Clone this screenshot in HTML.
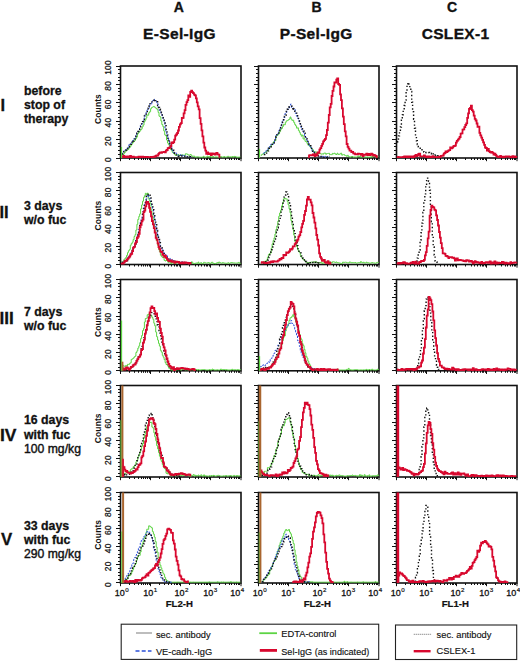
<!DOCTYPE html><html><head><meta charset="utf-8"><style>
*{margin:0;padding:0}
html,body{width:520px;height:661px;background:#fff;overflow:hidden}
svg{display:block}
text{font-family:"Liberation Sans",sans-serif;fill:#111}
.hd{font-size:14px;font-weight:bold;stroke:#111;stroke-width:0.35px}
.hd2{font-size:15.5px;font-weight:bold;letter-spacing:0.35px;stroke:#111;stroke-width:0.35px}
.rn{font-size:16.5px;font-weight:bold;stroke:#111;stroke-width:0.3px}
.rb{font-size:12.3px;font-weight:bold;stroke:#111;stroke-width:0.3px}
.rr{font-size:12.2px;stroke:#111;stroke-width:0.4px}
.yl{font-size:8.4px;letter-spacing:0.3px;stroke:#111;stroke-width:0.25px}
.cnt{font-size:8.5px;font-weight:bold;letter-spacing:0.1px}
.xl{font-size:9px;stroke:#111;stroke-width:0.3px}
.sup{font-size:6.2px;stroke-width:0.2px}
.xt{font-size:9.6px;font-weight:bold;stroke:#111;stroke-width:0.2px}
.lg{font-size:9.3px;stroke:#111;stroke-width:0.15px}
</style></head><body><svg width="520" height="661" viewBox="0 0 520 661"><path d="M116.00,158.50H120.50M118.00,154.50H120.50M118.00,150.50H120.50M118.00,146.50H120.50M118.00,143.50H120.50M116.00,139.50H120.50M118.00,135.50H120.50M118.00,132.50H120.50M118.00,128.50H120.50M118.00,124.50H120.50M116.00,121.50H120.50M118.00,117.50H120.50M118.00,113.50H120.50M118.00,110.50H120.50M118.00,106.50H120.50M116.00,102.50H120.50M118.00,99.50H120.50M118.00,95.50H120.50M118.00,91.50H120.50M118.00,88.50H120.50M116.00,84.50H120.50M118.00,80.50H120.50M118.00,77.50H120.50M118.00,73.50H120.50M118.00,69.50H120.50M116.00,66.50H120.50M120.50,158.00V161.20M129.50,158.00V160.00M134.50,158.00V160.00M138.50,158.00V160.00M141.50,158.00V160.00M143.50,158.00V160.00M145.50,158.00V160.00M147.50,158.00V160.00M149.50,158.00V160.00M150.50,158.00V161.20M159.50,158.00V160.00M164.50,158.00V160.00M168.50,158.00V160.00M171.50,158.00V160.00M174.50,158.00V160.00M176.50,158.00V160.00M177.50,158.00V160.00M179.50,158.00V160.00M180.50,158.00V161.20M189.50,158.00V160.00M195.50,158.00V160.00M198.50,158.00V160.00M201.50,158.00V160.00M204.50,158.00V160.00M206.50,158.00V160.00M207.50,158.00V160.00M209.50,158.00V160.00M210.50,158.00V161.20M219.50,158.00V160.00M225.50,158.00V160.00M229.50,158.00V160.00M231.50,158.00V160.00M234.50,158.00V160.00M236.50,158.00V160.00M238.50,158.00V160.00M239.50,158.00V160.00M241.00,158.00V161.20" stroke="#111" stroke-width="1" fill="none"/>
<rect x="120.50" y="66.00" width="120.50" height="92.00" fill="none" stroke="#111" stroke-width="1.6"/>
<text x="0" y="0" transform="translate(111.20,159.40) rotate(-90)" text-anchor="middle" class="yl">0</text>
<text x="0" y="0" transform="translate(111.20,141.00) rotate(-90)" text-anchor="middle" class="yl">20</text>
<text x="0" y="0" transform="translate(111.20,122.60) rotate(-90)" text-anchor="middle" class="yl">40</text>
<text x="0" y="0" transform="translate(111.20,104.20) rotate(-90)" text-anchor="middle" class="yl">60</text>
<text x="0" y="0" transform="translate(111.20,85.80) rotate(-90)" text-anchor="middle" class="yl">80</text>
<text x="0" y="0" transform="translate(111.20,67.40) rotate(-90)" text-anchor="middle" class="yl">100</text>
<text x="0" y="0" transform="translate(100.60,109.00) rotate(-90)" text-anchor="middle" class="cnt">Counts</text>
<path d="M254.00,158.50H258.50M256.00,154.50H258.50M256.00,150.50H258.50M256.00,146.50H258.50M256.00,143.50H258.50M254.00,139.50H258.50M256.00,135.50H258.50M256.00,132.50H258.50M256.00,128.50H258.50M256.00,124.50H258.50M254.00,121.50H258.50M256.00,117.50H258.50M256.00,113.50H258.50M256.00,110.50H258.50M256.00,106.50H258.50M254.00,102.50H258.50M256.00,99.50H258.50M256.00,95.50H258.50M256.00,91.50H258.50M256.00,88.50H258.50M254.00,84.50H258.50M256.00,80.50H258.50M256.00,77.50H258.50M256.00,73.50H258.50M256.00,69.50H258.50M254.00,66.50H258.50M258.50,158.00V161.20M267.50,158.00V160.00M272.50,158.00V160.00M276.50,158.00V160.00M279.50,158.00V160.00M281.50,158.00V160.00M283.50,158.00V160.00M285.50,158.00V160.00M287.50,158.00V160.00M288.50,158.00V161.20M297.50,158.00V160.00M302.50,158.00V160.00M306.50,158.00V160.00M309.50,158.00V160.00M312.50,158.00V160.00M314.50,158.00V160.00M315.50,158.00V160.00M317.50,158.00V160.00M318.50,158.00V161.20M327.50,158.00V160.00M333.50,158.00V160.00M336.50,158.00V160.00M339.50,158.00V160.00M342.50,158.00V160.00M344.50,158.00V160.00M345.50,158.00V160.00M347.50,158.00V160.00M348.50,158.00V161.20M357.50,158.00V160.00M363.50,158.00V160.00M367.50,158.00V160.00M369.50,158.00V160.00M372.50,158.00V160.00M374.50,158.00V160.00M376.50,158.00V160.00M377.50,158.00V160.00M379.00,158.00V161.20" stroke="#111" stroke-width="1" fill="none"/>
<rect x="258.50" y="66.00" width="120.50" height="92.00" fill="none" stroke="#111" stroke-width="1.6"/>
<path d="M392.00,158.50H396.50M394.00,154.50H396.50M394.00,150.50H396.50M394.00,146.50H396.50M394.00,143.50H396.50M392.00,139.50H396.50M394.00,135.50H396.50M394.00,132.50H396.50M394.00,128.50H396.50M394.00,124.50H396.50M392.00,121.50H396.50M394.00,117.50H396.50M394.00,113.50H396.50M394.00,110.50H396.50M394.00,106.50H396.50M392.00,102.50H396.50M394.00,99.50H396.50M394.00,95.50H396.50M394.00,91.50H396.50M394.00,88.50H396.50M392.00,84.50H396.50M394.00,80.50H396.50M394.00,77.50H396.50M394.00,73.50H396.50M394.00,69.50H396.50M392.00,66.50H396.50M396.50,158.00V161.20M405.50,158.00V160.00M410.50,158.00V160.00M414.50,158.00V160.00M417.50,158.00V160.00M419.50,158.00V160.00M421.50,158.00V160.00M423.50,158.00V160.00M425.50,158.00V160.00M426.50,158.00V161.20M435.50,158.00V160.00M440.50,158.00V160.00M444.50,158.00V160.00M447.50,158.00V160.00M450.50,158.00V160.00M452.50,158.00V160.00M453.50,158.00V160.00M455.50,158.00V160.00M456.50,158.00V161.20M465.50,158.00V160.00M471.50,158.00V160.00M474.50,158.00V160.00M477.50,158.00V160.00M480.50,158.00V160.00M482.50,158.00V160.00M483.50,158.00V160.00M485.50,158.00V160.00M486.50,158.00V161.20M495.50,158.00V160.00M501.50,158.00V160.00M505.50,158.00V160.00M507.50,158.00V160.00M510.50,158.00V160.00M512.50,158.00V160.00M514.50,158.00V160.00M515.50,158.00V160.00M517.00,158.00V161.20" stroke="#111" stroke-width="1" fill="none"/>
<rect x="396.50" y="66.00" width="120.50" height="92.00" fill="none" stroke="#111" stroke-width="1.6"/>
<path d="M116.00,264.50H120.50M118.00,260.50H120.50M118.00,257.50H120.50M118.00,253.50H120.50M118.00,249.50H120.50M116.00,246.50H120.50M118.00,242.50H120.50M118.00,238.50H120.50M118.00,235.50H120.50M118.00,231.50H120.50M116.00,227.50H120.50M118.00,224.50H120.50M118.00,220.50H120.50M118.00,216.50H120.50M118.00,212.50H120.50M116.00,209.50H120.50M118.00,205.50H120.50M118.00,201.50H120.50M118.00,198.50H120.50M118.00,194.50H120.50M116.00,190.50H120.50M118.00,187.50H120.50M118.00,183.50H120.50M118.00,179.50H120.50M118.00,176.50H120.50M116.00,172.50H120.50M120.50,264.50V267.70M129.50,264.50V266.50M134.50,264.50V266.50M138.50,264.50V266.50M141.50,264.50V266.50M143.50,264.50V266.50M145.50,264.50V266.50M147.50,264.50V266.50M149.50,264.50V266.50M150.50,264.50V267.70M159.50,264.50V266.50M164.50,264.50V266.50M168.50,264.50V266.50M171.50,264.50V266.50M174.50,264.50V266.50M176.50,264.50V266.50M177.50,264.50V266.50M179.50,264.50V266.50M180.50,264.50V267.70M189.50,264.50V266.50M195.50,264.50V266.50M198.50,264.50V266.50M201.50,264.50V266.50M204.50,264.50V266.50M206.50,264.50V266.50M207.50,264.50V266.50M209.50,264.50V266.50M210.50,264.50V267.70M219.50,264.50V266.50M225.50,264.50V266.50M229.50,264.50V266.50M231.50,264.50V266.50M234.50,264.50V266.50M236.50,264.50V266.50M238.50,264.50V266.50M239.50,264.50V266.50M241.00,264.50V267.70" stroke="#111" stroke-width="1" fill="none"/>
<rect x="120.50" y="172.50" width="120.50" height="92.00" fill="none" stroke="#111" stroke-width="1.6"/>
<text x="0" y="0" transform="translate(111.20,265.90) rotate(-90)" text-anchor="middle" class="yl">0</text>
<text x="0" y="0" transform="translate(111.20,247.50) rotate(-90)" text-anchor="middle" class="yl">20</text>
<text x="0" y="0" transform="translate(111.20,229.10) rotate(-90)" text-anchor="middle" class="yl">40</text>
<text x="0" y="0" transform="translate(111.20,210.70) rotate(-90)" text-anchor="middle" class="yl">60</text>
<text x="0" y="0" transform="translate(111.20,192.30) rotate(-90)" text-anchor="middle" class="yl">80</text>
<text x="0" y="0" transform="translate(111.20,173.90) rotate(-90)" text-anchor="middle" class="yl">100</text>
<text x="0" y="0" transform="translate(100.60,215.50) rotate(-90)" text-anchor="middle" class="cnt">Counts</text>
<path d="M254.00,264.50H258.50M256.00,260.50H258.50M256.00,257.50H258.50M256.00,253.50H258.50M256.00,249.50H258.50M254.00,246.50H258.50M256.00,242.50H258.50M256.00,238.50H258.50M256.00,235.50H258.50M256.00,231.50H258.50M254.00,227.50H258.50M256.00,224.50H258.50M256.00,220.50H258.50M256.00,216.50H258.50M256.00,212.50H258.50M254.00,209.50H258.50M256.00,205.50H258.50M256.00,201.50H258.50M256.00,198.50H258.50M256.00,194.50H258.50M254.00,190.50H258.50M256.00,187.50H258.50M256.00,183.50H258.50M256.00,179.50H258.50M256.00,176.50H258.50M254.00,172.50H258.50M258.50,264.50V267.70M267.50,264.50V266.50M272.50,264.50V266.50M276.50,264.50V266.50M279.50,264.50V266.50M281.50,264.50V266.50M283.50,264.50V266.50M285.50,264.50V266.50M287.50,264.50V266.50M288.50,264.50V267.70M297.50,264.50V266.50M302.50,264.50V266.50M306.50,264.50V266.50M309.50,264.50V266.50M312.50,264.50V266.50M314.50,264.50V266.50M315.50,264.50V266.50M317.50,264.50V266.50M318.50,264.50V267.70M327.50,264.50V266.50M333.50,264.50V266.50M336.50,264.50V266.50M339.50,264.50V266.50M342.50,264.50V266.50M344.50,264.50V266.50M345.50,264.50V266.50M347.50,264.50V266.50M348.50,264.50V267.70M357.50,264.50V266.50M363.50,264.50V266.50M367.50,264.50V266.50M369.50,264.50V266.50M372.50,264.50V266.50M374.50,264.50V266.50M376.50,264.50V266.50M377.50,264.50V266.50M379.00,264.50V267.70" stroke="#111" stroke-width="1" fill="none"/>
<rect x="258.50" y="172.50" width="120.50" height="92.00" fill="none" stroke="#111" stroke-width="1.6"/>
<path d="M392.00,264.50H396.50M394.00,260.50H396.50M394.00,257.50H396.50M394.00,253.50H396.50M394.00,249.50H396.50M392.00,246.50H396.50M394.00,242.50H396.50M394.00,238.50H396.50M394.00,235.50H396.50M394.00,231.50H396.50M392.00,227.50H396.50M394.00,224.50H396.50M394.00,220.50H396.50M394.00,216.50H396.50M394.00,212.50H396.50M392.00,209.50H396.50M394.00,205.50H396.50M394.00,201.50H396.50M394.00,198.50H396.50M394.00,194.50H396.50M392.00,190.50H396.50M394.00,187.50H396.50M394.00,183.50H396.50M394.00,179.50H396.50M394.00,176.50H396.50M392.00,172.50H396.50M396.50,264.50V267.70M405.50,264.50V266.50M410.50,264.50V266.50M414.50,264.50V266.50M417.50,264.50V266.50M419.50,264.50V266.50M421.50,264.50V266.50M423.50,264.50V266.50M425.50,264.50V266.50M426.50,264.50V267.70M435.50,264.50V266.50M440.50,264.50V266.50M444.50,264.50V266.50M447.50,264.50V266.50M450.50,264.50V266.50M452.50,264.50V266.50M453.50,264.50V266.50M455.50,264.50V266.50M456.50,264.50V267.70M465.50,264.50V266.50M471.50,264.50V266.50M474.50,264.50V266.50M477.50,264.50V266.50M480.50,264.50V266.50M482.50,264.50V266.50M483.50,264.50V266.50M485.50,264.50V266.50M486.50,264.50V267.70M495.50,264.50V266.50M501.50,264.50V266.50M505.50,264.50V266.50M507.50,264.50V266.50M510.50,264.50V266.50M512.50,264.50V266.50M514.50,264.50V266.50M515.50,264.50V266.50M517.00,264.50V267.70" stroke="#111" stroke-width="1" fill="none"/>
<rect x="396.50" y="172.50" width="120.50" height="92.00" fill="none" stroke="#111" stroke-width="1.6"/>
<path d="M116.00,370.50H120.50M118.00,367.50H120.50M118.00,363.50H120.50M118.00,359.50H120.50M118.00,356.50H120.50M116.00,352.50H120.50M118.00,348.50H120.50M118.00,345.50H120.50M118.00,341.50H120.50M118.00,337.50H120.50M116.00,334.50H120.50M118.00,330.50H120.50M118.00,326.50H120.50M118.00,323.50H120.50M118.00,319.50H120.50M116.00,316.50H120.50M118.00,312.50H120.50M118.00,308.50H120.50M118.00,305.50H120.50M118.00,301.50H120.50M116.00,297.50H120.50M118.00,294.50H120.50M118.00,290.50H120.50M118.00,286.50H120.50M118.00,283.50H120.50M116.00,279.50H120.50M120.50,370.80V374.00M129.50,370.80V372.80M134.50,370.80V372.80M138.50,370.80V372.80M141.50,370.80V372.80M143.50,370.80V372.80M145.50,370.80V372.80M147.50,370.80V372.80M149.50,370.80V372.80M150.50,370.80V374.00M159.50,370.80V372.80M164.50,370.80V372.80M168.50,370.80V372.80M171.50,370.80V372.80M174.50,370.80V372.80M176.50,370.80V372.80M177.50,370.80V372.80M179.50,370.80V372.80M180.50,370.80V374.00M189.50,370.80V372.80M195.50,370.80V372.80M198.50,370.80V372.80M201.50,370.80V372.80M204.50,370.80V372.80M206.50,370.80V372.80M207.50,370.80V372.80M209.50,370.80V372.80M210.50,370.80V374.00M219.50,370.80V372.80M225.50,370.80V372.80M229.50,370.80V372.80M231.50,370.80V372.80M234.50,370.80V372.80M236.50,370.80V372.80M238.50,370.80V372.80M239.50,370.80V372.80M241.00,370.80V374.00" stroke="#111" stroke-width="1" fill="none"/>
<rect x="120.50" y="279.50" width="120.50" height="91.30" fill="none" stroke="#111" stroke-width="1.6"/>
<text x="0" y="0" transform="translate(111.20,372.20) rotate(-90)" text-anchor="middle" class="yl">0</text>
<text x="0" y="0" transform="translate(111.20,353.94) rotate(-90)" text-anchor="middle" class="yl">20</text>
<text x="0" y="0" transform="translate(111.20,335.68) rotate(-90)" text-anchor="middle" class="yl">40</text>
<text x="0" y="0" transform="translate(111.20,317.42) rotate(-90)" text-anchor="middle" class="yl">60</text>
<text x="0" y="0" transform="translate(111.20,299.16) rotate(-90)" text-anchor="middle" class="yl">80</text>
<text x="0" y="0" transform="translate(111.20,280.90) rotate(-90)" text-anchor="middle" class="yl">100</text>
<text x="0" y="0" transform="translate(100.60,322.15) rotate(-90)" text-anchor="middle" class="cnt">Counts</text>
<path d="M254.00,370.50H258.50M256.00,367.50H258.50M256.00,363.50H258.50M256.00,359.50H258.50M256.00,356.50H258.50M254.00,352.50H258.50M256.00,348.50H258.50M256.00,345.50H258.50M256.00,341.50H258.50M256.00,337.50H258.50M254.00,334.50H258.50M256.00,330.50H258.50M256.00,326.50H258.50M256.00,323.50H258.50M256.00,319.50H258.50M254.00,316.50H258.50M256.00,312.50H258.50M256.00,308.50H258.50M256.00,305.50H258.50M256.00,301.50H258.50M254.00,297.50H258.50M256.00,294.50H258.50M256.00,290.50H258.50M256.00,286.50H258.50M256.00,283.50H258.50M254.00,279.50H258.50M258.50,370.80V374.00M267.50,370.80V372.80M272.50,370.80V372.80M276.50,370.80V372.80M279.50,370.80V372.80M281.50,370.80V372.80M283.50,370.80V372.80M285.50,370.80V372.80M287.50,370.80V372.80M288.50,370.80V374.00M297.50,370.80V372.80M302.50,370.80V372.80M306.50,370.80V372.80M309.50,370.80V372.80M312.50,370.80V372.80M314.50,370.80V372.80M315.50,370.80V372.80M317.50,370.80V372.80M318.50,370.80V374.00M327.50,370.80V372.80M333.50,370.80V372.80M336.50,370.80V372.80M339.50,370.80V372.80M342.50,370.80V372.80M344.50,370.80V372.80M345.50,370.80V372.80M347.50,370.80V372.80M348.50,370.80V374.00M357.50,370.80V372.80M363.50,370.80V372.80M367.50,370.80V372.80M369.50,370.80V372.80M372.50,370.80V372.80M374.50,370.80V372.80M376.50,370.80V372.80M377.50,370.80V372.80M379.00,370.80V374.00" stroke="#111" stroke-width="1" fill="none"/>
<rect x="258.50" y="279.50" width="120.50" height="91.30" fill="none" stroke="#111" stroke-width="1.6"/>
<path d="M392.00,370.50H396.50M394.00,367.50H396.50M394.00,363.50H396.50M394.00,359.50H396.50M394.00,356.50H396.50M392.00,352.50H396.50M394.00,348.50H396.50M394.00,345.50H396.50M394.00,341.50H396.50M394.00,337.50H396.50M392.00,334.50H396.50M394.00,330.50H396.50M394.00,326.50H396.50M394.00,323.50H396.50M394.00,319.50H396.50M392.00,316.50H396.50M394.00,312.50H396.50M394.00,308.50H396.50M394.00,305.50H396.50M394.00,301.50H396.50M392.00,297.50H396.50M394.00,294.50H396.50M394.00,290.50H396.50M394.00,286.50H396.50M394.00,283.50H396.50M392.00,279.50H396.50M396.50,370.80V374.00M405.50,370.80V372.80M410.50,370.80V372.80M414.50,370.80V372.80M417.50,370.80V372.80M419.50,370.80V372.80M421.50,370.80V372.80M423.50,370.80V372.80M425.50,370.80V372.80M426.50,370.80V374.00M435.50,370.80V372.80M440.50,370.80V372.80M444.50,370.80V372.80M447.50,370.80V372.80M450.50,370.80V372.80M452.50,370.80V372.80M453.50,370.80V372.80M455.50,370.80V372.80M456.50,370.80V374.00M465.50,370.80V372.80M471.50,370.80V372.80M474.50,370.80V372.80M477.50,370.80V372.80M480.50,370.80V372.80M482.50,370.80V372.80M483.50,370.80V372.80M485.50,370.80V372.80M486.50,370.80V374.00M495.50,370.80V372.80M501.50,370.80V372.80M505.50,370.80V372.80M507.50,370.80V372.80M510.50,370.80V372.80M512.50,370.80V372.80M514.50,370.80V372.80M515.50,370.80V372.80M517.00,370.80V374.00" stroke="#111" stroke-width="1" fill="none"/>
<rect x="396.50" y="279.50" width="120.50" height="91.30" fill="none" stroke="#111" stroke-width="1.6"/>
<path d="M116.00,476.50H120.50M118.00,473.50H120.50M118.00,469.50H120.50M118.00,466.50H120.50M118.00,462.50H120.50M116.00,458.50H120.50M118.00,455.50H120.50M118.00,451.50H120.50M118.00,447.50H120.50M118.00,444.50H120.50M116.00,440.50H120.50M118.00,436.50H120.50M118.00,433.50H120.50M118.00,429.50H120.50M118.00,425.50H120.50M116.00,422.50H120.50M118.00,418.50H120.50M118.00,414.50H120.50M118.00,411.50H120.50M118.00,407.50H120.50M116.00,403.50H120.50M118.00,400.50H120.50M118.00,396.50H120.50M118.00,392.50H120.50M118.00,389.50H120.50M116.00,385.50H120.50M120.50,477.00V480.20M129.50,477.00V479.00M134.50,477.00V479.00M138.50,477.00V479.00M141.50,477.00V479.00M143.50,477.00V479.00M145.50,477.00V479.00M147.50,477.00V479.00M149.50,477.00V479.00M150.50,477.00V480.20M159.50,477.00V479.00M164.50,477.00V479.00M168.50,477.00V479.00M171.50,477.00V479.00M174.50,477.00V479.00M176.50,477.00V479.00M177.50,477.00V479.00M179.50,477.00V479.00M180.50,477.00V480.20M189.50,477.00V479.00M195.50,477.00V479.00M198.50,477.00V479.00M201.50,477.00V479.00M204.50,477.00V479.00M206.50,477.00V479.00M207.50,477.00V479.00M209.50,477.00V479.00M210.50,477.00V480.20M219.50,477.00V479.00M225.50,477.00V479.00M229.50,477.00V479.00M231.50,477.00V479.00M234.50,477.00V479.00M236.50,477.00V479.00M238.50,477.00V479.00M239.50,477.00V479.00M241.00,477.00V480.20" stroke="#111" stroke-width="1" fill="none"/>
<rect x="120.50" y="385.50" width="120.50" height="91.50" fill="none" stroke="#111" stroke-width="1.6"/>
<text x="0" y="0" transform="translate(111.20,478.40) rotate(-90)" text-anchor="middle" class="yl">0</text>
<text x="0" y="0" transform="translate(111.20,460.10) rotate(-90)" text-anchor="middle" class="yl">20</text>
<text x="0" y="0" transform="translate(111.20,441.80) rotate(-90)" text-anchor="middle" class="yl">40</text>
<text x="0" y="0" transform="translate(111.20,423.50) rotate(-90)" text-anchor="middle" class="yl">60</text>
<text x="0" y="0" transform="translate(111.20,405.20) rotate(-90)" text-anchor="middle" class="yl">80</text>
<text x="0" y="0" transform="translate(111.20,386.90) rotate(-90)" text-anchor="middle" class="yl">100</text>
<text x="0" y="0" transform="translate(100.60,428.25) rotate(-90)" text-anchor="middle" class="cnt">Counts</text>
<path d="M254.00,476.50H258.50M256.00,473.50H258.50M256.00,469.50H258.50M256.00,466.50H258.50M256.00,462.50H258.50M254.00,458.50H258.50M256.00,455.50H258.50M256.00,451.50H258.50M256.00,447.50H258.50M256.00,444.50H258.50M254.00,440.50H258.50M256.00,436.50H258.50M256.00,433.50H258.50M256.00,429.50H258.50M256.00,425.50H258.50M254.00,422.50H258.50M256.00,418.50H258.50M256.00,414.50H258.50M256.00,411.50H258.50M256.00,407.50H258.50M254.00,403.50H258.50M256.00,400.50H258.50M256.00,396.50H258.50M256.00,392.50H258.50M256.00,389.50H258.50M254.00,385.50H258.50M258.50,477.00V480.20M267.50,477.00V479.00M272.50,477.00V479.00M276.50,477.00V479.00M279.50,477.00V479.00M281.50,477.00V479.00M283.50,477.00V479.00M285.50,477.00V479.00M287.50,477.00V479.00M288.50,477.00V480.20M297.50,477.00V479.00M302.50,477.00V479.00M306.50,477.00V479.00M309.50,477.00V479.00M312.50,477.00V479.00M314.50,477.00V479.00M315.50,477.00V479.00M317.50,477.00V479.00M318.50,477.00V480.20M327.50,477.00V479.00M333.50,477.00V479.00M336.50,477.00V479.00M339.50,477.00V479.00M342.50,477.00V479.00M344.50,477.00V479.00M345.50,477.00V479.00M347.50,477.00V479.00M348.50,477.00V480.20M357.50,477.00V479.00M363.50,477.00V479.00M367.50,477.00V479.00M369.50,477.00V479.00M372.50,477.00V479.00M374.50,477.00V479.00M376.50,477.00V479.00M377.50,477.00V479.00M379.00,477.00V480.20" stroke="#111" stroke-width="1" fill="none"/>
<rect x="258.50" y="385.50" width="120.50" height="91.50" fill="none" stroke="#111" stroke-width="1.6"/>
<path d="M392.00,476.50H396.50M394.00,473.50H396.50M394.00,469.50H396.50M394.00,466.50H396.50M394.00,462.50H396.50M392.00,458.50H396.50M394.00,455.50H396.50M394.00,451.50H396.50M394.00,447.50H396.50M394.00,444.50H396.50M392.00,440.50H396.50M394.00,436.50H396.50M394.00,433.50H396.50M394.00,429.50H396.50M394.00,425.50H396.50M392.00,422.50H396.50M394.00,418.50H396.50M394.00,414.50H396.50M394.00,411.50H396.50M394.00,407.50H396.50M392.00,403.50H396.50M394.00,400.50H396.50M394.00,396.50H396.50M394.00,392.50H396.50M394.00,389.50H396.50M392.00,385.50H396.50M396.50,477.00V480.20M405.50,477.00V479.00M410.50,477.00V479.00M414.50,477.00V479.00M417.50,477.00V479.00M419.50,477.00V479.00M421.50,477.00V479.00M423.50,477.00V479.00M425.50,477.00V479.00M426.50,477.00V480.20M435.50,477.00V479.00M440.50,477.00V479.00M444.50,477.00V479.00M447.50,477.00V479.00M450.50,477.00V479.00M452.50,477.00V479.00M453.50,477.00V479.00M455.50,477.00V479.00M456.50,477.00V480.20M465.50,477.00V479.00M471.50,477.00V479.00M474.50,477.00V479.00M477.50,477.00V479.00M480.50,477.00V479.00M482.50,477.00V479.00M483.50,477.00V479.00M485.50,477.00V479.00M486.50,477.00V480.20M495.50,477.00V479.00M501.50,477.00V479.00M505.50,477.00V479.00M507.50,477.00V479.00M510.50,477.00V479.00M512.50,477.00V479.00M514.50,477.00V479.00M515.50,477.00V479.00M517.00,477.00V480.20" stroke="#111" stroke-width="1" fill="none"/>
<rect x="396.50" y="385.50" width="120.50" height="91.50" fill="none" stroke="#111" stroke-width="1.6"/>
<path d="M116.00,582.50H120.50M118.00,579.50H120.50M118.00,575.50H120.50M118.00,572.50H120.50M118.00,568.50H120.50M116.00,564.50H120.50M118.00,561.50H120.50M118.00,557.50H120.50M118.00,554.50H120.50M118.00,550.50H120.50M116.00,546.50H120.50M118.00,543.50H120.50M118.00,539.50H120.50M118.00,535.50H120.50M118.00,532.50H120.50M116.00,528.50H120.50M118.00,525.50H120.50M118.00,521.50H120.50M118.00,517.50H120.50M118.00,514.50H120.50M116.00,510.50H120.50M118.00,506.50H120.50M118.00,503.50H120.50M118.00,499.50H120.50M118.00,496.50H120.50M116.00,492.50H120.50M120.50,583.00V586.20M129.50,583.00V585.00M134.50,583.00V585.00M138.50,583.00V585.00M141.50,583.00V585.00M143.50,583.00V585.00M145.50,583.00V585.00M147.50,583.00V585.00M149.50,583.00V585.00M150.50,583.00V586.20M159.50,583.00V585.00M164.50,583.00V585.00M168.50,583.00V585.00M171.50,583.00V585.00M174.50,583.00V585.00M176.50,583.00V585.00M177.50,583.00V585.00M179.50,583.00V585.00M180.50,583.00V586.20M189.50,583.00V585.00M195.50,583.00V585.00M198.50,583.00V585.00M201.50,583.00V585.00M204.50,583.00V585.00M206.50,583.00V585.00M207.50,583.00V585.00M209.50,583.00V585.00M210.50,583.00V586.20M219.50,583.00V585.00M225.50,583.00V585.00M229.50,583.00V585.00M231.50,583.00V585.00M234.50,583.00V585.00M236.50,583.00V585.00M238.50,583.00V585.00M239.50,583.00V585.00M241.00,583.00V586.20" stroke="#111" stroke-width="1" fill="none"/>
<rect x="120.50" y="492.50" width="120.50" height="90.50" fill="none" stroke="#111" stroke-width="1.6"/>
<text x="0" y="0" transform="translate(111.20,584.40) rotate(-90)" text-anchor="middle" class="yl">0</text>
<text x="0" y="0" transform="translate(111.20,566.30) rotate(-90)" text-anchor="middle" class="yl">20</text>
<text x="0" y="0" transform="translate(111.20,548.20) rotate(-90)" text-anchor="middle" class="yl">40</text>
<text x="0" y="0" transform="translate(111.20,530.10) rotate(-90)" text-anchor="middle" class="yl">60</text>
<text x="0" y="0" transform="translate(111.20,512.00) rotate(-90)" text-anchor="middle" class="yl">80</text>
<text x="0" y="0" transform="translate(111.20,493.90) rotate(-90)" text-anchor="middle" class="yl">100</text>
<text x="0" y="0" transform="translate(100.60,534.75) rotate(-90)" text-anchor="middle" class="cnt">Counts</text>
<path d="M254.00,582.50H258.50M256.00,579.50H258.50M256.00,575.50H258.50M256.00,572.50H258.50M256.00,568.50H258.50M254.00,564.50H258.50M256.00,561.50H258.50M256.00,557.50H258.50M256.00,554.50H258.50M256.00,550.50H258.50M254.00,546.50H258.50M256.00,543.50H258.50M256.00,539.50H258.50M256.00,535.50H258.50M256.00,532.50H258.50M254.00,528.50H258.50M256.00,525.50H258.50M256.00,521.50H258.50M256.00,517.50H258.50M256.00,514.50H258.50M254.00,510.50H258.50M256.00,506.50H258.50M256.00,503.50H258.50M256.00,499.50H258.50M256.00,496.50H258.50M254.00,492.50H258.50M258.50,583.00V586.20M267.50,583.00V585.00M272.50,583.00V585.00M276.50,583.00V585.00M279.50,583.00V585.00M281.50,583.00V585.00M283.50,583.00V585.00M285.50,583.00V585.00M287.50,583.00V585.00M288.50,583.00V586.20M297.50,583.00V585.00M302.50,583.00V585.00M306.50,583.00V585.00M309.50,583.00V585.00M312.50,583.00V585.00M314.50,583.00V585.00M315.50,583.00V585.00M317.50,583.00V585.00M318.50,583.00V586.20M327.50,583.00V585.00M333.50,583.00V585.00M336.50,583.00V585.00M339.50,583.00V585.00M342.50,583.00V585.00M344.50,583.00V585.00M345.50,583.00V585.00M347.50,583.00V585.00M348.50,583.00V586.20M357.50,583.00V585.00M363.50,583.00V585.00M367.50,583.00V585.00M369.50,583.00V585.00M372.50,583.00V585.00M374.50,583.00V585.00M376.50,583.00V585.00M377.50,583.00V585.00M379.00,583.00V586.20" stroke="#111" stroke-width="1" fill="none"/>
<rect x="258.50" y="492.50" width="120.50" height="90.50" fill="none" stroke="#111" stroke-width="1.6"/>
<path d="M392.00,582.50H396.50M394.00,579.50H396.50M394.00,575.50H396.50M394.00,572.50H396.50M394.00,568.50H396.50M392.00,564.50H396.50M394.00,561.50H396.50M394.00,557.50H396.50M394.00,554.50H396.50M394.00,550.50H396.50M392.00,546.50H396.50M394.00,543.50H396.50M394.00,539.50H396.50M394.00,535.50H396.50M394.00,532.50H396.50M392.00,528.50H396.50M394.00,525.50H396.50M394.00,521.50H396.50M394.00,517.50H396.50M394.00,514.50H396.50M392.00,510.50H396.50M394.00,506.50H396.50M394.00,503.50H396.50M394.00,499.50H396.50M394.00,496.50H396.50M392.00,492.50H396.50M396.50,583.00V586.20M405.50,583.00V585.00M410.50,583.00V585.00M414.50,583.00V585.00M417.50,583.00V585.00M419.50,583.00V585.00M421.50,583.00V585.00M423.50,583.00V585.00M425.50,583.00V585.00M426.50,583.00V586.20M435.50,583.00V585.00M440.50,583.00V585.00M444.50,583.00V585.00M447.50,583.00V585.00M450.50,583.00V585.00M452.50,583.00V585.00M453.50,583.00V585.00M455.50,583.00V585.00M456.50,583.00V586.20M465.50,583.00V585.00M471.50,583.00V585.00M474.50,583.00V585.00M477.50,583.00V585.00M480.50,583.00V585.00M482.50,583.00V585.00M483.50,583.00V585.00M485.50,583.00V585.00M486.50,583.00V586.20M495.50,583.00V585.00M501.50,583.00V585.00M505.50,583.00V585.00M507.50,583.00V585.00M510.50,583.00V585.00M512.50,583.00V585.00M514.50,583.00V585.00M515.50,583.00V585.00M517.00,583.00V586.20" stroke="#111" stroke-width="1" fill="none"/>
<rect x="396.50" y="492.50" width="120.50" height="90.50" fill="none" stroke="#111" stroke-width="1.6"/>
<!--CURVES-->
<path d="M122.4,154.7H123.3V154.1H124.2V152.7H125.2V151.7H126.1V150.3H127.1V149.8H128.0V149.3H128.9V147.7H129.9V146.8H130.8V145.1H131.8V143.9H132.7V142.5H133.6V140.1H134.6V140.4H135.5V138.6H136.5V137.1H137.4V134.0H138.3V132.4H139.3V131.4H140.2V130.1H141.2V129.1H142.1V127.0H143.0V125.1H144.0V121.9H144.9V120.2H145.9V118.0H146.8V115.0H147.7V115.2H148.7V112.8H149.6V111.7H150.6V108.7H151.5V107.5H152.4V107.0H153.4V106.4H154.3V107.1H155.3V107.9H156.2V108.5H157.1V109.7H158.1V112.4H159.0V116.2H160.0V117.0H160.9V121.0H161.8V124.5H162.8V126.5H163.7V130.9H164.7V134.9H165.6V135.8H166.5V140.0H167.5V143.0H168.4V144.7H169.4V147.6H170.3V149.4H171.2V150.2H172.2V152.3H173.1V153.1H174.1V154.1H175.0V155.2H175.9V155.2H176.9V155.2H177.8V154.5H178.8V155.6H179.7V155.0H180.6V155.2H181.6V154.8H182.5V155.0H183.5V155.1H184.4V155.7H185.3V153.8H186.3V153.8H187.2V154.4H188.2V155.1H189.1V155.2H190.0V154.6H191.0V155.0H191.9V156.7H192.9V156.2H193.8V156.1H194.7V157.1H195.7V157.2H196.6V156.8H197.6V156.9H198.5V157.0H199.4V157.2H200.4V157.2H201.3V157.2H202.3V157.2H203.2V156.3H204.1V157.2H205.1V157.2H206.0V157.2H207.0V156.1H207.9V156.7H208.8V157.2H209.8V156.1H210.7V156.9H211.7V157.2H212.6V156.4H213.5V157.2H214.5V157.2H215.4V156.9H216.4V157.1H217.3V157.2H218.2V157.0H219.2V157.2H220.1V156.7H221.1V156.8H222.0V157.2H222.9V157.0H223.9V156.6H224.8V157.2H225.8V157.2H226.7V156.8H227.6V156.3H228.6V156.9H229.5V156.9H230.5V156.8H231.4V157.2H232.3V156.5H233.3V157.2H234.2V156.4H235.2V156.6H236.1V157.2H237.0V157.2H238.0V157.2H238.9V157.1H239.9V157.1H240.4V157.1H240.4" fill="none" stroke="#5cd444" stroke-width="1.00"/>
<path d="M260.8,155.3H261.8V154.3H262.7V153.9H263.7V153.5H264.6V152.5H265.5V152.2H266.5V151.1H267.4V150.9H268.4V148.9H269.3V147.4H270.2V146.3H271.2V145.1H272.1V144.3H273.1V142.1H274.0V141.1H274.9V140.7H275.9V136.2H276.8V135.4H277.8V134.7H278.7V133.2H279.6V131.4H280.6V129.3H281.5V128.4H282.5V126.5H283.4V124.3H284.3V124.8H285.3V122.3H286.2V120.9H287.2V120.6H288.1V119.8H289.0V119.2H290.0V117.0H290.9V119.0H291.9V120.4H292.8V120.2H293.7V122.4H294.7V124.5H295.6V125.9H296.6V128.2H297.5V127.8H298.4V130.6H299.4V132.4H300.3V134.5H301.3V136.2H302.2V135.1H303.1V139.0H304.1V138.7H305.0V141.3H306.0V141.1H306.9V143.3H307.8V145.1H308.8V145.4H309.7V146.7H310.7V148.2H311.6V148.9H312.5V149.8H313.5V151.8H314.4V152.1H315.4V151.9H316.3V154.0H317.2V152.3H318.2V153.9H319.1V153.5H320.1V153.7H321.0V154.1H321.9V153.9H322.9V154.1H323.8V153.1H324.8V153.1H325.7V154.3H326.6V153.5H327.6V153.5H328.5V153.3H329.5V154.7H330.4V154.4H331.3V154.7H332.3V153.4H333.2V153.8H334.2V153.2H335.1V154.1H336.0V154.5H337.0V153.2H337.9V154.4H338.9V154.3H339.8V153.9H340.7V153.2H341.7V155.2H342.6V154.6H343.6V154.6H344.5V155.3H345.4V155.6H346.4V156.3H347.3V155.3H348.3V156.6H349.2V156.9H350.1V157.1H351.1V156.6H352.0V156.5H353.0V157.2H353.9V157.0H354.8V157.0H355.8V157.2H356.7V156.9H357.7V155.9H358.6V156.8H359.5V156.1H360.5V157.2H361.4V157.1H362.4V156.7H363.3V157.0H364.2V157.2H365.2V157.0H366.1V157.2H367.1V157.0H368.0V157.2H368.9V157.2H369.9V157.2H370.8V156.7H371.8V157.2H372.7V156.1H373.6V156.5H374.6V156.1H375.5V157.2H376.5V156.4H377.4V157.0H378.3V156.9H378.4V157.0H378.4" fill="none" stroke="#5cd444" stroke-width="1.00"/>
<path d="M121.1,261.3H121.8V262.4H122.8V262.0H123.7V259.7H124.7V258.6H125.6V257.5H126.5V255.4H127.5V252.6H128.4V250.7H129.4V249.4H130.3V245.3H131.2V243.6H132.2V242.2H133.1V239.6H134.1V236.5H135.0V234.6H135.9V230.0H136.9V224.3H137.8V219.4H138.8V216.4H139.7V213.9H140.6V208.9H141.6V204.9H142.5V201.2H143.5V197.4H144.4V195.7H145.3V193.3H146.3V194.9H147.2V193.2H148.2V198.1H149.1V200.1H150.0V203.3H151.0V209.9H151.9V214.1H152.9V217.6H153.8V224.3H154.7V230.7H155.7V235.3H156.6V241.0H157.6V245.3H158.5V249.1H159.4V251.7H160.4V255.2H161.3V256.4H162.3V257.6H163.2V257.4H164.1V260.3H165.1V261.0H166.0V260.5H167.0V260.8H167.9V262.4H168.8V260.9H169.8V262.4H170.7V263.6H171.7V262.0H172.6V262.9H173.5V263.5H174.5V262.6H175.4V263.0H176.4V263.2H177.3V262.4H178.2V262.8H179.2V263.0H180.1V263.4H181.1V263.0H182.0V262.9H182.9V262.5H183.9V262.8H184.8V263.4H185.8V263.0H186.7V262.6H187.6V262.6H188.6V263.7H189.5V263.5H190.5V263.3H191.4V261.8H192.3V263.3H193.3V263.2H194.2V263.7H195.2V263.2H196.1V263.0H197.0V263.2H198.0V262.1H198.9V263.5H199.9V263.1H200.8V262.7H201.7V263.6H202.7V263.7H203.6V262.3H204.6V262.7H205.5V263.1H206.4V263.1H207.4V262.8H208.3V262.5H209.3V263.7H210.2V263.5H211.1V262.4H212.1V262.3H213.0V263.7H214.0V263.5H214.9V263.7H215.8V263.4H216.8V262.6H217.7V263.1H218.7V262.0H219.6V262.6H220.5V263.0H221.5V263.2H222.4V262.6H223.4V262.9H224.3V263.2H225.2V263.2H226.2V263.3H227.1V263.1H228.1V262.8H229.0V263.4H229.9V263.0H230.9V262.6H231.8V262.7H232.8V263.0H233.7V262.9H234.6V263.1H235.6V263.0H236.5V263.1H237.5V262.9H238.4V262.4H239.3V263.2H240.3V263.5H240.4V263.2H240.4" fill="none" stroke="#5cd444" stroke-width="1.00"/>
<path d="M260.8,262.8H261.8V262.9H262.7V262.0H263.7V261.4H264.6V262.2H265.5V260.9H266.5V260.0H267.4V257.2H268.4V254.5H269.3V253.6H270.2V253.1H271.2V248.2H272.1V243.9H273.1V240.6H274.0V237.8H274.9V234.1H275.9V229.5H276.8V226.1H277.8V221.2H278.7V216.3H279.6V213.0H280.6V210.2H281.5V205.9H282.5V202.7H283.4V199.0H284.3V198.0H285.3V198.9H286.2V198.9H287.2V201.4H288.1V204.8H289.0V208.8H290.0V212.7H290.9V220.5H291.9V225.1H292.8V229.5H293.7V235.1H294.7V241.3H295.6V242.5H296.6V246.4H297.5V249.6H298.4V251.4H299.4V252.6H300.3V255.3H301.3V257.3H302.2V258.9H303.1V259.6H304.1V260.2H305.0V261.5H306.0V262.3H306.9V262.6H307.8V262.5H308.8V262.4H309.7V262.9H310.7V262.0H311.6V262.2H312.5V262.5H313.5V261.8H314.4V262.3H315.4V261.6H316.3V262.2H317.2V262.8H318.2V262.9H319.1V262.6H320.1V262.5H321.0V261.9H321.9V263.5H322.9V262.9H323.8V263.1H324.8V262.2H325.7V262.5H326.6V261.8H327.6V263.0H328.5V263.1H329.5V261.7H330.4V262.6H331.3V263.0H332.3V261.8H333.2V261.8H334.2V262.2H335.1V262.4H336.0V262.0H337.0V262.7H337.9V262.8H338.9V263.0H339.8V263.1H340.7V263.5H341.7V263.3H342.6V262.1H343.6V262.5H344.5V262.2H345.4V262.2H346.4V262.7H347.3V262.8H348.3V263.0H349.2V262.0H350.1V262.2H351.1V262.8H352.0V262.7H353.0V262.7H353.9V262.8H354.8V262.5H355.8V263.2H356.7V263.0H357.7V262.8H358.6V262.5H359.5V262.8H360.5V261.6H361.4V262.4H362.4V262.9H363.3V262.2H364.2V263.0H365.2V263.0H366.1V262.2H367.1V262.8H368.0V262.8H368.9V263.1H369.9V263.2H370.8V262.9H371.8V262.5H372.7V262.9H373.6V262.9H374.6V263.3H375.5V263.1H376.5V262.6H377.4V262.3H378.3V262.8H378.4V262.6H378.4" fill="none" stroke="#5cd444" stroke-width="1.00"/>
<path d="M121.1,365.6H121.8V366.0H122.8V365.8H123.7V366.1H124.7V366.4H125.6V365.4H126.5V366.3H127.5V364.3H128.4V364.5H129.4V363.4H130.3V362.8H131.2V359.4H132.2V358.9H133.1V358.1H134.1V356.9H135.0V356.1H135.9V352.5H136.9V350.8H137.8V348.1H138.8V345.9H139.7V342.7H140.6V338.6H141.6V335.5H142.5V330.6H143.5V328.3H144.4V322.0H145.3V318.5H146.3V318.3H147.2V314.8H148.2V314.2H149.1V315.6H150.0V315.1H151.0V315.4H151.9V317.4H152.9V319.4H153.8V323.2H154.7V325.8H155.7V332.1H156.6V336.7H157.6V340.1H158.5V343.4H159.4V346.1H160.4V350.4H161.3V352.1H162.3V355.4H163.2V357.2H164.1V359.6H165.1V362.6H166.0V364.5H167.0V365.2H167.9V366.4H168.8V368.4H169.8V368.9H170.7V370.0H171.7V370.0H172.6V370.0H173.5V369.7H174.5V370.0H175.4V370.0H176.4V370.0H177.3V369.7H178.2V369.9H179.2V369.2H180.1V370.0H181.1V370.0H182.0V369.4H182.9V369.3H183.9V369.2H184.8V370.0H185.8V369.7H186.7V369.9H187.6V369.8H188.6V369.9H189.5V369.5H190.5V370.0H191.4V369.3H192.3V369.9H193.3V370.0H194.2V370.0H195.2V369.8H196.1V369.5H197.0V370.0H198.0V369.7H198.9V370.0H199.9V370.0H200.8V369.9H201.7V369.7H202.7V369.6H203.6V369.5H204.6V369.8H205.5V370.0H206.4V370.0H207.4V370.0H208.3V370.0H209.3V369.6H210.2V370.0H211.1V370.0H212.1V369.1H213.0V369.7H214.0V370.0H214.9V370.0H215.8V370.0H216.8V369.8H217.7V370.0H218.7V370.0H219.6V370.0H220.5V369.1H221.5V369.5H222.4V370.0H223.4V369.5H224.3V369.5H225.2V370.0H226.2V369.7H227.1V370.0H228.1V370.0H229.0V370.0H229.9V370.0H230.9V369.9H231.8V369.3H232.8V369.9H233.7V370.0H234.6V369.7H235.6V369.9H236.5V370.0H237.5V369.6H238.4V370.0H239.3V370.0H240.3V369.7H240.4V370.0H240.4" fill="none" stroke="#5cd444" stroke-width="1.00"/>
<path d="M259.9,368.9H260.8V369.7H261.8V369.1H262.7V369.4H263.6V368.7H264.6V369.0H265.5V368.9H266.5V367.7H267.4V368.9H268.3V368.3H269.3V366.7H270.2V367.5H271.2V365.9H272.1V365.0H273.0V363.8H274.0V361.6H274.9V361.1H275.9V359.8H276.8V356.2H277.7V353.5H278.7V350.9H279.6V348.7H280.6V346.7H281.5V344.5H282.4V340.5H283.4V337.2H284.3V335.9H285.3V331.0H286.2V328.1H287.1V326.2H288.1V323.9H289.0V320.3H290.0V317.8H290.9V317.6H291.8V316.2H292.8V314.6H293.7V316.7H294.7V318.2H295.6V321.9H296.5V324.2H297.5V327.3H298.4V330.3H299.4V334.5H300.3V337.8H301.2V339.7H302.2V343.7H303.1V345.7H304.1V349.4H305.0V352.8H305.9V356.3H306.9V358.1H307.8V361.2H308.8V363.6H309.7V365.0H310.6V368.2H311.6V368.6H312.5V369.5H313.5V369.3H314.4V369.1H315.3V370.0H316.3V370.0H317.2V369.7H318.2V370.0H319.1V369.8H320.0V369.7H321.0V370.0H321.9V369.2H322.9V369.6H323.8V369.9H324.7V370.0H325.7V369.9H326.6V370.0H327.6V369.7H328.5V370.0H329.4V370.0H330.4V369.6H331.3V370.0H332.3V369.7H333.2V370.0H334.1V370.0H335.1V370.0H336.0V369.4H337.0V369.0H337.9V370.0H338.8V370.0H339.8V370.0H340.7V370.0H341.7V370.0H342.6V370.0H343.5V370.0H344.5V370.0H345.4V370.0H346.4V369.4H347.3V369.8H348.2V368.4H349.2V370.0H350.1V369.8H351.1V370.0H352.0V370.0H352.9V370.0H353.9V369.8H354.8V369.7H355.8V369.6H356.7V369.7H357.6V370.0H358.6V370.0H359.5V370.0H360.5V369.9H361.4V370.0H362.3V370.0H363.3V369.9H364.2V370.0H365.2V369.9H366.1V369.4H367.0V370.0H368.0V370.0H368.9V369.5H369.9V370.0H370.8V370.0H371.7V369.2H372.7V370.0H373.6V370.0H374.6V370.0H375.5V370.0H376.4V369.9H377.4V369.2H378.3V370.0H378.4V370.0H378.4" fill="none" stroke="#5cd444" stroke-width="1.00"/>
<path d="M121.1,473.0H121.8V473.4H122.8V473.4H123.7V473.8H124.7V473.4H125.6V473.1H126.5V471.4H127.5V471.7H128.4V471.7H129.4V471.5H130.3V469.7H131.2V468.8H132.2V468.8H133.1V466.6H134.1V466.2H135.0V465.1H135.9V461.9H136.9V460.4H137.8V456.9H138.8V455.2H139.7V452.3H140.6V449.0H141.6V446.3H142.5V443.8H143.5V438.0H144.4V434.4H145.3V431.6H146.3V427.0H147.2V425.7H148.2V423.2H149.1V421.6H150.0V422.5H151.0V422.4H151.9V427.1H152.9V428.1H153.8V432.7H154.7V436.7H155.7V440.7H156.6V445.6H157.6V448.9H158.5V452.5H159.4V456.2H160.4V459.7H161.3V461.5H162.3V464.6H163.2V467.0H164.1V468.3H165.1V469.3H166.0V473.2H167.0V473.8H167.9V472.3H168.8V474.0H169.8V474.9H170.7V475.9H171.7V475.8H172.6V475.4H173.5V475.0H174.5V475.6H175.4V476.0H176.4V475.0H177.3V475.1H178.2V475.5H179.2V474.6H180.1V475.4H181.1V475.4H182.0V475.8H182.9V475.3H183.9V475.2H184.8V475.4H185.8V475.6H186.7V475.3H187.6V475.6H188.6V476.0H189.5V476.2H190.5V476.2H191.4V475.3H192.3V475.5H193.3V474.5H194.2V476.2H195.2V475.3H196.1V475.7H197.0V475.9H198.0V475.0H198.9V475.9H199.9V475.7H200.8V474.8H201.7V475.9H202.7V476.2H203.6V474.9H204.6V476.1H205.5V475.8H206.4V476.0H207.4V476.0H208.3V476.2H209.3V475.7H210.2V476.2H211.1V475.6H212.1V476.1H213.0V475.4H214.0V475.7H214.9V476.2H215.8V476.0H216.8V475.7H217.7V475.3H218.7V475.5H219.6V475.9H220.5V476.2H221.5V476.0H222.4V476.1H223.4V475.8H224.3V476.2H225.2V475.7H226.2V475.6H227.1V476.2H228.1V475.9H229.0V475.8H229.9V475.6H230.9V475.8H231.8V476.2H232.8V476.1H233.7V475.4H234.6V476.1H235.6V476.0H236.5V475.5H237.5V476.2H238.4V475.8H239.3V475.8H240.3V476.2H240.4V476.2H240.4" fill="none" stroke="#5cd444" stroke-width="1.00"/>
<path d="M259.1,475.2H259.8V474.3H260.8V473.1H261.7V474.2H262.7V472.3H263.6V472.6H264.5V471.2H265.5V471.3H266.4V471.2H267.4V467.6H268.3V467.8H269.2V467.4H270.2V465.9H271.1V463.2H272.1V462.6H273.0V459.0H273.9V455.5H274.9V454.8H275.8V449.3H276.8V447.6H277.7V442.6H278.6V439.4H279.6V437.1H280.5V433.1H281.5V428.8H282.4V425.6H283.3V425.8H284.3V423.2H285.2V419.7H286.2V419.5H287.1V418.6H288.0V418.0H289.0V417.3H289.9V421.3H290.9V425.3H291.8V430.3H292.7V435.5H293.7V438.5H294.6V446.1H295.6V451.8H296.5V457.0H297.4V458.4H298.4V462.6H299.3V466.2H300.3V468.6H301.2V469.7H302.1V472.4H303.1V472.8H304.0V473.7H305.0V473.7H305.9V474.4H306.8V474.4H307.8V474.3H308.7V476.0H309.7V475.6H310.6V475.2H311.5V475.6H312.5V476.0H313.4V475.1H314.4V475.5H315.3V475.8H316.2V475.8H317.2V475.4H318.1V474.6H319.1V476.2H320.0V475.7H320.9V475.6H321.9V475.5H322.8V475.7H323.8V475.4H324.7V475.1H325.6V475.3H326.6V475.3H327.5V475.3H328.5V475.1H329.4V475.9H330.3V475.0H331.3V476.0H332.2V475.2H333.2V475.8H334.1V476.2H335.0V475.8H336.0V475.3H336.9V475.7H337.9V475.8H338.8V474.9H339.7V475.4H340.7V475.8H341.6V475.5H342.6V475.8H343.5V476.1H344.4V476.1H345.4V476.2H346.3V476.0H347.3V475.6H348.2V475.8H349.1V475.7H350.1V475.6H351.0V475.7H352.0V475.0H352.9V475.6H353.8V475.8H354.8V475.4H355.7V475.8H356.7V476.1H357.6V475.8H358.5V476.2H359.5V474.6H360.4V475.8H361.4V475.0H362.3V476.2H363.2V476.2H364.2V474.7H365.1V475.9H366.1V476.1H367.0V475.8H367.9V476.2H368.9V474.9H369.8V476.2H370.8V476.1H371.7V475.9H372.6V475.7H373.6V476.2H374.5V475.7H375.5V476.1H376.4V475.7H377.3V474.9H378.3V476.0H378.4V476.1H378.4" fill="none" stroke="#5cd444" stroke-width="1.00"/>
<path d="M121.4,582.2H122.3V580.7H123.3V580.7H124.2V580.6H125.2V579.8H126.1V579.4H127.0V578.9H128.0V576.4H128.9V574.9H129.9V575.3H130.8V573.8H131.7V571.6H132.7V569.7H133.6V566.9H134.6V564.9H135.5V563.6H136.4V560.1H137.4V557.1H138.3V555.3H139.3V555.4H140.2V552.0H141.1V546.9H142.1V543.8H143.0V541.4H144.0V537.8H144.9V536.6H145.8V532.7H146.8V529.2H147.7V529.3H148.7V525.8H149.6V526.3H150.5V527.0H151.5V527.8H152.4V531.6H153.4V534.1H154.3V537.1H155.2V541.6H156.2V547.0H157.1V552.1H158.1V557.3H159.0V561.6H159.9V565.1H160.9V567.9H161.8V570.5H162.8V573.2H163.7V574.3H164.6V577.3H165.6V579.5H166.5V580.7H167.5V581.0H168.4V581.6H169.3V582.2H170.3V582.2H171.2V582.2H172.2V582.2H173.1V582.2H174.0V582.2H175.0V582.2H175.9V582.2H176.9V582.1H177.8V582.1H178.7V582.2H179.7V582.2H180.6V582.2H181.6V582.2H182.5V582.2H183.4V582.2H184.4V582.2H185.3V581.9H186.3V582.2H187.2V582.2H188.1V582.2H189.1V582.2H190.0V582.1H191.0V582.2H191.9V582.2H192.8V582.1H193.8V582.2H194.7V582.2H195.7V582.2H196.6V582.2H197.5V582.2H198.5V582.2H199.4V582.2H200.4V582.2H201.3V582.2H202.2V582.2H203.2V582.2H204.1V582.2H205.1V582.2H206.0V582.2H206.9V582.2H207.9V582.2H208.8V581.9H209.8V582.2H210.7V582.2H211.6V582.2H212.6V582.2H213.5V582.2H214.5V582.2H215.4V582.2H216.3V582.2H217.3V581.8H218.2V582.2H219.2V582.2H220.1V582.2H221.0V582.0H222.0V582.2H222.9V582.0H223.9V582.2H224.8V582.2H225.7V582.2H226.7V582.2H227.6V582.1H228.6V582.2H229.5V582.2H230.4V581.7H231.4V582.2H232.3V582.2H233.3V582.1H234.2V582.2H235.1V582.2H236.1V582.0H237.0V582.2H238.0V582.2H238.9V582.2H239.8V582.2H240.4V582.2H240.4" fill="none" stroke="#5cd444" stroke-width="1.00"/>
<path d="M259.4,582.2H260.3V581.9H261.3V582.0H262.2V581.4H263.2V579.7H264.1V579.7H265.0V578.0H266.0V577.7H266.9V575.8H267.9V574.9H268.8V574.2H269.7V570.4H270.7V568.5H271.6V566.4H272.6V563.8H273.5V561.6H274.4V560.6H275.4V557.4H276.3V553.9H277.3V551.0H278.2V549.4H279.1V545.2H280.1V542.5H281.0V540.2H282.0V538.2H282.9V535.9H283.8V533.0H284.8V530.9H285.7V529.5H286.7V530.7H287.6V530.4H288.5V529.5H289.5V532.0H290.4V533.8H291.4V536.8H292.3V540.2H293.2V543.6H294.2V549.8H295.1V554.8H296.1V561.8H297.0V566.0H297.9V569.6H298.9V574.0H299.8V576.5H300.8V577.2H301.7V580.6H302.6V581.5H303.6V582.2H304.5V581.3H305.5V582.2H306.4V582.2H307.3V582.2H308.3V582.2H309.2V582.2H310.2V581.8H311.1V581.9H312.0V581.9H313.0V582.2H313.9V582.2H314.9V582.2H315.8V582.2H316.7V582.2H317.7V582.2H318.6V582.2H319.6V582.2H320.5V582.2H321.4V582.2H322.4V582.2H323.3V582.2H324.3V582.2H325.2V582.2H326.1V582.2H327.1V582.2H328.0V582.2H329.0V582.0H329.9V582.2H330.8V582.2H331.8V581.8H332.7V582.2H333.7V582.1H334.6V582.2H335.5V582.2H336.5V582.2H337.4V582.2H338.4V582.2H339.3V582.2H340.2V582.2H341.2V582.2H342.1V582.2H343.1V582.2H344.0V581.3H344.9V582.2H345.9V582.2H346.8V581.7H347.8V582.2H348.7V582.2H349.6V582.2H350.6V582.0H351.5V582.2H352.5V582.2H353.4V582.2H354.3V582.2H355.3V582.2H356.2V582.2H357.2V582.0H358.1V582.2H359.0V582.2H360.0V582.2H360.9V582.2H361.9V582.2H362.8V581.8H363.7V582.2H364.7V582.2H365.6V582.1H366.6V582.2H367.5V582.2H368.4V582.2H369.4V582.2H370.3V582.2H371.3V582.2H372.2V582.2H373.1V582.2H374.1V582.2H375.0V581.8H376.0V582.2H376.9V582.2H377.8V582.2H378.4V581.8H378.4" fill="none" stroke="#5cd444" stroke-width="1.00"/>
<path d="M121.6,153.8H122.6V152.9H123.5V151.0H124.5V150.3H125.4V149.9H126.3V149.0H127.3V148.2H128.2V145.5H129.2V143.9H130.1V143.8H131.0V142.8H132.0V141.1H132.9V138.9H133.9V139.0H134.8V137.5H135.7V135.5H136.7V132.9H137.6V131.6H138.6V130.0H139.5V127.2H140.4V124.4H141.4V124.1H142.3V122.0H143.3V119.3H144.2V117.7H145.1V114.2H146.1V112.2H147.0V109.9H148.0V108.7H148.9V107.7H149.8V104.3H150.8V104.3H151.7V102.2H152.7V100.5H153.6V99.2H154.5V100.9H155.5V100.8H156.4V102.4H157.4V103.9H158.3V107.4H159.2V110.3H160.2V112.0H161.1V114.4H162.1V116.4H163.0V119.2H163.9V121.4H164.9V127.9H165.8V131.6H166.8V134.6H167.7V137.9H168.6V141.0H169.6V145.2H170.5V147.3H171.5V147.7H172.4V150.9H173.3V152.7H174.3V152.5H175.2V152.7H176.2V153.8H177.1V154.5H178.0V155.6H179.0V155.5H179.9V154.8H180.9V156.0H181.8V155.2H182.7V156.5H183.7V155.6H184.6V156.0H185.6V156.0H186.5V156.3H187.4V157.2H188.4V157.2H189.3V157.2H190.3V157.1H191.2" fill="none" stroke="#2a4fd8" stroke-width="1.00" stroke-dasharray="2.2,1.6"/>
<path d="M263.3,153.2H264.2V152.7H265.1V151.7H266.1V150.4H267.0V150.2H268.0V148.4H268.9V147.3H269.8V146.0H270.8V144.2H271.7V144.7H272.7V144.0H273.6V142.2H274.5V139.3H275.5V135.9H276.4V135.5H277.4V134.0H278.3V131.1H279.2V129.3H280.2V127.4H281.1V124.8H282.1V121.3H283.0V120.1H283.9V117.5H284.9V113.6H285.8V112.5H286.8V109.9H287.7V109.0H288.6V108.1H289.6V105.8H290.5V104.1H291.5V107.5H292.4V107.7H293.3V109.7H294.3V109.4H295.2V113.2H296.2V115.8H297.1V117.9H298.0V118.9H299.0V121.9H299.9V124.2H300.9V127.5H301.8V129.9H302.7V131.6H303.7V133.0H304.6V136.5H305.6V137.5H306.5V140.1H307.4V141.8H308.4V144.5H309.3V146.1H310.3V147.0H311.2V149.3H312.1V151.4H313.1V151.4H314.0V153.2H315.0V154.7H315.9V155.4H316.8V155.6H317.8V155.4H318.7V155.9H319.7V156.7H320.6V156.8H321.5V157.2H322.5V156.3H323.4V157.2H324.4V157.2H325.3V156.1H326.2V156.5H327.2V157.0H328.1V156.8H329.1" fill="none" stroke="#2a4fd8" stroke-width="1.00" stroke-dasharray="2.2,1.6"/>
<path d="M121.4,262.2H122.3V262.1H123.3V261.0H124.2V261.2H125.2V260.2H126.1V259.7H127.0V258.8H128.0V256.8H128.9V255.9H129.9V255.2H130.8V252.9H131.7V250.5H132.7V248.7H133.6V245.7H134.6V244.3H135.5V240.4H136.4V238.1H137.4V233.5H138.3V229.4H139.3V227.4H140.2V221.5H141.1V219.4H142.1V214.4H143.0V211.0H144.0V204.9H144.9V202.8H145.8V199.1H146.8V195.8H147.7V194.9H148.7V198.3H149.6V198.6H150.5V201.4H151.5V205.1H152.4V209.9H153.4V214.5H154.3V219.8H155.2V226.5H156.2V229.9H157.1V234.5H158.1V239.2H159.0V241.5H159.9V245.6H160.9V248.4H161.8V248.8H162.8V251.3H163.7V252.9H164.6V253.5H165.6V255.9H166.5V255.7H167.5V258.0H168.4V259.6H169.3V258.4H170.3V259.5H171.2V259.1H172.2V260.9H173.1V260.5H174.0V261.2H175.0V261.7H175.9V262.3H176.9V261.9H177.8V262.2H178.7V262.0H179.7V262.3H180.6V261.8H181.6V262.4H182.5V261.5H183.4V262.3H184.4V263.5H185.3V262.7H186.3V262.1H187.2V262.9H188.1V262.4H189.1V262.1H190.0V262.6H191.0" fill="none" stroke="#2a4fd8" stroke-width="1.00" stroke-dasharray="2.2,1.6"/>
<path d="M259.9,366.8H260.8V366.4H261.8V365.8H262.7V365.1H263.6V364.7H264.6V365.6H265.5V364.6H266.5V363.6H267.4V362.6H268.3V361.8H269.3V362.6H270.2V359.1H271.2V358.3H272.1V357.1H273.0V355.2H274.0V353.2H274.9V350.6H275.9V349.0H276.8V348.9H277.7V345.2H278.7V343.9H279.6V339.8H280.6V338.4H281.5V336.5H282.4V334.9H283.4V331.6H284.3V331.3H285.3V329.5H286.2V327.0H287.1V326.4H288.1V324.3H289.0V323.5H290.0V323.2H290.9V320.5H291.8V323.5H292.8V323.8H293.7V325.7H294.7V329.4H295.6V333.2H296.5V335.5H297.5V340.7H298.4V342.8H299.4V346.4H300.3V351.2H301.2V353.2H302.2V356.4H303.1V357.8H304.1V360.6H305.0V362.2H305.9V364.3H306.9V365.3H307.8V366.7H308.8V366.5H309.7V367.2H310.6V367.7H311.6V369.6H312.5V368.8H313.5V368.8H314.4V369.0H315.3V369.3H316.3V369.1H317.2V369.6H318.2V369.6H319.1" fill="none" stroke="#2a4fd8" stroke-width="1.00" stroke-dasharray="2.2,1.6"/>
<path d="M123.3,581.0H124.3V579.2H125.2V578.2H126.2V576.2H127.1V574.9H128.0V573.4H129.0V571.8H129.9V568.4H130.9V567.0H131.8V564.5H132.7V563.2H133.7V559.3H134.6V557.5H135.6V555.4H136.5V553.0H137.4V551.6H138.4V548.2H139.3V546.9H140.3V543.0H141.2V540.6H142.1V540.8H143.1V538.1H144.0V536.0H145.0V534.6H145.9V533.9H146.8V531.6H147.8V532.4H148.7V532.1H149.7V534.2H150.6V535.5H151.5V537.7H152.5V542.0H153.4V548.3H154.4V552.1H155.3V556.6H156.2V561.7H157.2V566.0H158.1V569.2H159.1V572.1H160.0V574.7H160.9V577.9H161.9V578.5H162.8V580.4H163.8V581.3H164.7V582.2H165.6V582.2H166.6V581.9H167.5V582.0H168.5V582.1H169.4V581.9H170.3V582.2H171.3V582.2H172.2" fill="none" stroke="#2a4fd8" stroke-width="1.00" stroke-dasharray="2.2,1.6"/>
<path d="M261.3,582.2H262.3V580.9H263.2V579.4H264.2V577.7H265.1V577.2H266.0V575.6H267.0V573.8H267.9V572.4H268.9V570.3H269.8V569.8H270.7V567.3H271.7V566.9H272.6V563.1H273.6V560.9H274.5V559.7H275.4V556.5H276.4V554.1H277.3V551.4H278.3V548.9H279.2V548.2H280.1V545.6H281.1V544.0H282.0V540.2H283.0V538.6H283.9V536.8H284.8V537.2H285.8V534.2H286.7V536.6H287.7V537.9H288.6V540.0H289.5V541.5H290.5V546.3H291.4V549.4H292.4V554.0H293.3V558.4H294.2V564.7H295.2V569.7H296.1V571.6H297.1V574.1H298.0V576.9H298.9V580.4H299.9V580.3H300.8V580.2H301.8V580.4H302.7V581.6H303.6V582.2H304.6V582.2H305.5V582.1H306.5V582.0H307.4V582.2H308.3V581.6H309.3V582.2H310.2" fill="none" stroke="#2a4fd8" stroke-width="1.00" stroke-dasharray="2.2,1.6"/>
<path d="M121.9,154.1H122.8V153.9H123.8V151.6H124.7V150.7H125.6V150.3H126.6V148.7H127.5V148.4H128.5V146.7H129.4V144.9H130.3V144.4H131.3V143.2H132.2V140.5H133.2V141.1H134.1V139.1H135.0V137.9H136.0V134.6H136.9V133.2H137.9V131.5H138.8V130.3H139.7V126.9H140.7V125.3H141.6V122.7H142.6V121.6H143.5V119.5H144.4V115.9H145.4V114.1H146.3V112.3H147.3V110.6H148.2V108.3H149.1V105.9H150.1V103.6H151.0V101.9H152.0V100.3H152.9V100.1H153.8V99.2H154.8V100.6H155.7V101.2H156.7V101.8H157.6V105.6H158.5V107.5H159.5V109.2H160.4V111.0H161.4V112.8H162.3V115.8H163.2V119.5H164.2V121.3H165.1V125.7H166.1V131.2H167.0V135.1H167.9V138.4H168.9V141.6H169.8V145.0H170.8V146.3H171.7V149.0H172.6V150.0H173.6V152.6H174.5V153.2H175.5V153.9H176.4V154.9H177.3V155.1H178.3V156.2H179.2V156.4H180.2V156.2H181.1V156.0H182.0V156.0H183.0V156.2H183.9V156.4H184.9V156.5H185.8V157.2H186.7V156.9H187.7V157.1H188.6V156.5H189.6V156.7H190.5V156.9H191.4" fill="none" stroke="#111" stroke-width="1.40" stroke-dasharray="1.4,2.2"/>
<path d="M263.8,154.6H264.7V153.1H265.6V153.1H266.6V151.2H267.5V150.9H268.5V148.2H269.4V148.0H270.3V146.8H271.3V145.5H272.2V144.4H273.2V143.0H274.1V141.7H275.0V138.5H276.0V136.8H276.9V133.7H277.9V133.0H278.8V130.6H279.7V128.1H280.7V125.4H281.6V123.2H282.6V122.2H283.5V119.8H284.4V116.4H285.4V115.0H286.3V111.4H287.3V109.3H288.2V108.3H289.1V106.8H290.1V106.4H291.0V106.3H292.0V108.8H292.9V107.4H293.8V109.1H294.8V111.3H295.7V113.1H296.7V115.7H297.6V118.4H298.5V119.1H299.5V122.4H300.4V124.7H301.4V127.5H302.3V128.8H303.2V131.1H304.2V133.2H305.1V136.8H306.1V138.6H307.0V140.6H307.9V141.4H308.9V144.2H309.8V145.8H310.8V147.2H311.7V149.2H312.6V151.2H313.6V152.4H314.5V153.4H315.5V154.8H316.4V154.9H317.3V155.6H318.3V156.1H319.2V156.7H320.2V156.5H321.1V156.6H322.0V156.6H323.0V156.5H323.9V157.2H324.9V157.0H325.8V157.0H326.7V157.2H327.7V157.2H328.6V156.4H329.6" fill="none" stroke="#111" stroke-width="1.40" stroke-dasharray="1.4,2.2"/>
<path d="M397.1,142.0H397.6V139.0H398.5V135.9H399.5V131.8H400.4V127.0H401.4V120.2H402.3V114.7H403.2V109.7H404.2V105.5H405.1V100.1H406.1V91.2H407.0V85.0H407.9V82.5H408.9V84.0H409.8V87.6H410.8V91.4H411.7V102.2H412.6V111.8H413.6V119.2H414.5V128.2H415.5V134.9H416.4V140.7H417.3V144.5H418.3V146.9H419.2V148.2H420.2V149.2H421.1V149.1H422.0V151.0H423.0V151.6H423.9V152.1H424.9V152.8H425.8V152.5H426.7V152.3H427.7V152.4H428.6V152.5H429.6V153.0H430.5V153.2H431.4V153.7H432.4V152.9H433.3V155.0H434.3V155.4H435.2V154.8H436.1V155.4H437.1V155.7H438.0V156.0H439.0V156.1H439.9V156.4H440.8V156.4H441.8V157.0H442.7" fill="none" stroke="#111" stroke-width="1.40" stroke-dasharray="1.4,2.2"/>
<path d="M121.9,262.8H122.8V262.5H123.8V261.6H124.7V261.5H125.6V261.1H126.6V260.9H127.5V258.8H128.5V257.8H129.4V256.5H130.3V254.7H131.3V252.7H132.2V250.4H133.2V248.1H134.1V246.2H135.0V244.1H136.0V240.8H136.9V237.4H137.9V234.1H138.8V230.1H139.7V225.6H140.7V221.7H141.6V217.9H142.6V214.1H143.5V208.6H144.4V204.5H145.4V201.1H146.3V195.6H147.3V194.7H148.2V194.2H149.1V195.2H150.1V197.2H151.0V201.3H152.0V205.2H152.9V209.7H153.8V213.8H154.8V220.6H155.7V224.6H156.7V230.5H157.6V234.8H158.5V239.5H159.5V242.8H160.4V246.2H161.4V248.0H162.3V251.0H163.2V253.8H164.2V254.3H165.1V255.7H166.1V256.1H167.0V257.9H167.9V259.1H168.9V259.6H169.8V259.4H170.8V260.4H171.7V261.0H172.6V261.3H173.6V261.5H174.5V260.7H175.5V261.5H176.4V262.6H177.3V261.6H178.3V262.6H179.2V262.9H180.2V262.6H181.1V262.8H182.0V262.3H183.0V262.0H183.9V262.5H184.9V262.5H185.8V262.7H186.7V263.0H187.7V262.8H188.6V262.9H189.6V263.1H190.5V263.0H191.4" fill="none" stroke="#111" stroke-width="1.40" stroke-dasharray="1.4,2.2"/>
<path d="M263.3,263.4H264.2V262.3H265.1V261.6H266.1V260.9H267.0V260.2H268.0V259.8H268.9V257.0H269.8V254.1H270.8V252.0H271.7V249.8H272.7V247.0H273.6V244.0H274.5V239.1H275.5V236.2H276.4V232.3H277.4V227.7H278.3V224.1H279.2V219.6H280.2V215.6H281.1V210.6H282.1V206.7H283.0V201.1H283.9V197.1H284.9V195.0H285.8V192.0H286.8V193.4H287.7V195.7H288.6V201.3H289.6V203.7H290.5V210.1H291.5V217.1H292.4V223.2H293.3V228.2H294.3V233.6H295.2V240.1H296.2V242.8H297.1V245.6H298.0V249.4H299.0V252.6H299.9V252.7H300.9V256.1H301.8V257.7H302.7V258.2H303.7V260.1H304.6V259.7H305.6V261.5H306.5V261.9H307.4V263.2H308.4V262.3H309.3V262.6H310.3V263.0H311.2V262.4H312.1V262.4H313.1V262.6H314.0V262.8H315.0V262.4H315.9V263.0H316.8V263.1H317.8V263.0H318.7V263.6H319.7" fill="none" stroke="#111" stroke-width="1.40" stroke-dasharray="1.4,2.2"/>
<path d="M416.3,261.0H417.2V258.1H418.2V253.7H419.1V250.0H420.1V240.1H421.0V232.8H421.9V223.1H422.9V212.5H423.8V202.1H424.8V193.9H425.7V185.2H426.6V179.3H427.6V178.1H428.5V181.3H429.5V190.3H430.4V204.2H431.3V221.7H432.3V235.4H433.2V247.0H434.2V255.0H435.1V261.1H436.0V262.0H437.0V263.1H437.9" fill="none" stroke="#111" stroke-width="1.40" stroke-dasharray="1.4,2.2"/>
<path d="M122.4,370.0H123.3V369.5H124.2V369.3H125.2V369.5H126.1V368.7H127.1V368.6H128.0V368.6H128.9V368.3H129.9V367.7H130.8V367.5H131.8V366.2H132.7V365.9H133.6V365.3H134.6V364.3H135.5V362.6H136.5V360.1H137.4V358.3H138.3V356.9H139.3V355.7H140.2V353.2H141.2V348.7H142.1V346.4H143.0V342.5H144.0V337.8H144.9V333.4H145.9V329.5H146.8V325.1H147.7V321.6H148.7V317.3H149.6V315.7H150.6V313.7H151.5V312.6H152.4V313.2H153.4V313.7H154.3V314.4H155.3V317.3H156.2V319.6H157.1V324.7H158.1V326.4H159.0V331.4H160.0V334.6H160.9V338.8H161.8V343.1H162.8V346.0H163.7V350.7H164.7V353.7H165.6V355.8H166.5V359.7H167.5V362.2H168.4V364.5H169.4V366.7H170.3V366.9H171.2V368.3H172.2V369.3H173.1V368.8H174.1V369.7H175.0V368.9H175.9V369.1H176.9V369.9H177.8V369.5H178.8" fill="none" stroke="#111" stroke-width="1.40" stroke-dasharray="1.4,2.2"/>
<path d="M260.8,368.9H261.8V368.1H262.7V368.6H263.7V368.0H264.6V368.4H265.5V367.5H266.5V368.1H267.4V367.6H268.4V367.6H269.3V367.4H270.2V367.0H271.2V364.8H272.1V362.6H273.1V362.1H274.0V360.0H274.9V358.5H275.9V355.1H276.8V350.1H277.8V347.0H278.7V343.3H279.6V339.0H280.6V335.8H281.5V331.6H282.5V327.6H283.4V323.9H284.3V321.5H285.3V317.8H286.2V316.1H287.2V313.5H288.1V309.5H289.0V307.6H290.0V306.0H290.9V304.4H291.9V304.3H292.8V306.2H293.7V310.8H294.7V314.5H295.6V319.3H296.6V324.6H297.5V328.9H298.4V335.0H299.4V338.4H300.3V344.0H301.3V347.8H302.2V351.1H303.1V355.8H304.1V358.7H305.0V361.8H306.0V363.2H306.9V365.1H307.8V367.5H308.8V368.1H309.7V367.3H310.7V368.5H311.6V368.5H312.5V369.1H313.5V369.1H314.4V369.1H315.4V369.3H316.3V370.0H317.2" fill="none" stroke="#111" stroke-width="1.40" stroke-dasharray="1.4,2.2"/>
<path d="M415.8,368.2H416.7V367.1H417.7V363.6H418.6V358.8H419.6V355.0H420.5V348.6H421.4V338.3H422.4V329.9H423.3V318.9H424.3V310.7H425.2V305.6H426.1V299.1H427.1V297.3H428.0V300.2H429.0V304.3H429.9V313.1H430.8V321.4H431.8V331.7H432.7V341.0H433.7V349.4H434.6V356.9H435.5V361.2H436.5V365.3H437.4V367.2H438.4V369.5H439.3" fill="none" stroke="#111" stroke-width="1.40" stroke-dasharray="1.4,2.2"/>
<path d="M122.8,475.6H123.8V476.2H124.7V474.5H125.7V475.6H126.6V474.9H127.5V474.9H128.5V474.3H129.4V472.8H130.4V472.5H131.3V471.8H132.2V471.0H133.2V468.4H134.1V466.4H135.1V463.9H136.0V464.1H136.9V460.7H137.9V457.0H138.8V452.5H139.8V450.1H140.7V445.4H141.6V442.5H142.6V438.1H143.5V433.5H144.5V430.0H145.4V425.2H146.3V422.0H147.3V418.4H148.2V415.5H149.2V413.9H150.1V413.5H151.0V415.5H152.0V414.8H152.9V420.1H153.9V423.5H154.8V428.3H155.7V433.3H156.7V437.7H157.6V441.7H158.6V445.5H159.5V450.1H160.4V453.6H161.4V455.5H162.3V459.3H163.3V461.8H164.2V464.1H165.1V466.6H166.1V468.4H167.0V470.3H168.0V471.0H168.9V472.1H169.8V472.7H170.8V474.0H171.7V475.0H172.7V475.7H173.6V475.7H174.5V475.0H175.5V475.2H176.4V475.2H177.4V475.7H178.3V476.2H179.2V476.1H180.2V475.2H181.1" fill="none" stroke="#111" stroke-width="1.40" stroke-dasharray="1.4,2.2"/>
<path d="M261.3,475.2H262.3V474.7H263.2V474.8H264.2V474.0H265.1V473.6H266.0V473.4H267.0V471.3H267.9V470.3H268.9V470.5H269.8V468.7H270.7V466.9H271.7V463.6H272.6V461.0H273.6V457.8H274.5V456.4H275.4V453.6H276.4V450.1H277.3V445.5H278.3V441.1H279.2V437.2H280.1V435.2H281.1V429.5H282.0V427.2H283.0V423.8H283.9V421.4H284.8V418.0H285.8V416.1H286.7V414.5H287.7V412.7H288.6V414.9H289.5V417.6H290.5V421.8H291.4V427.0H292.4V432.2H293.3V438.4H294.2V444.8H295.2V449.6H296.1V453.3H297.1V458.5H298.0V461.3H298.9V464.0H299.9V466.2H300.8V468.8H301.8V470.0H302.7V471.0H303.6V472.8H304.6V474.1H305.5V474.6H306.5V474.7H307.4V474.8H308.3V474.7H309.3V474.4H310.2V475.5H311.2V475.6H312.1V475.5H313.0V475.5H314.0V476.2H314.9" fill="none" stroke="#111" stroke-width="1.40" stroke-dasharray="1.4,2.2"/>
<path d="M418.2,472.8H419.2V469.4H420.1V464.1H421.1V456.8H422.0V446.7H422.9V437.9H423.9V427.0H424.8V417.5H425.8V408.8H426.7V408.0H427.6V409.9H428.6V413.9H429.5V424.8H430.5V435.5H431.4V444.3H432.3V453.8H433.3V463.6H434.2V469.1H435.2V473.5H436.1V475.0H437.0V475.8H438.0" fill="none" stroke="#111" stroke-width="1.40" stroke-dasharray="1.4,2.2"/>
<path d="M124.1,582.1H125.0V580.1H125.9V579.9H126.9V578.2H127.8V576.9H128.8V575.2H129.7V573.7H130.6V572.2H131.6V570.9H132.5V567.7H133.5V566.4H134.4V563.9H135.3V561.4H136.3V558.2H137.2V556.8H138.2V554.1H139.1V552.1H140.0V549.6H141.0V547.9H141.9V546.0H142.9V544.0H143.8V541.2H144.7V540.0H145.7V538.3H146.6V535.3H147.6V535.6H148.5V532.7H149.4V533.8H150.4V535.2H151.3V537.2H152.3V539.8H153.2V543.2H154.1V547.0H155.1V551.5H156.0V557.3H157.0V561.1H157.9V565.1H158.8V569.7H159.8V571.4H160.7V573.9H161.7V576.2H162.6V579.1H163.5V580.0H164.5V580.3H165.4V580.8H166.4V582.2H167.3V582.2H168.2V582.2H169.2V582.2H170.1V582.2H171.1V582.2H172.0" fill="none" stroke="#111" stroke-width="1.40" stroke-dasharray="1.4,2.2"/>
<path d="M262.1,581.8H263.0V580.6H263.9V579.3H264.9V578.3H265.8V577.5H266.8V575.2H267.7V574.1H268.6V572.3H269.6V570.5H270.5V569.7H271.5V567.2H272.4V565.2H273.3V563.5H274.3V560.1H275.2V558.7H276.2V556.7H277.1V554.8H278.0V551.5H279.0V550.3H279.9V547.9H280.9V546.6H281.8V544.5H282.7V542.1H283.7V541.1H284.6V538.6H285.6V537.3H286.5V536.3H287.4V536.0H288.4V537.8H289.3V538.0H290.3V542.4H291.2V546.2H292.1V550.4H293.1V554.4H294.0V560.0H295.0V563.3H295.9V567.8H296.8V571.0H297.8V573.9H298.7V576.3H299.7V579.6H300.6V580.2H301.5V580.2H302.5V581.3H303.4V581.8H304.4V582.0H305.3V582.2H306.2V582.1H307.2V582.1H308.1V581.8H309.1V582.2H310.0" fill="none" stroke="#111" stroke-width="1.40" stroke-dasharray="1.4,2.2"/>
<path d="M414.6,581.1H415.5V577.5H416.5V573.0H417.4V566.4H418.4V560.1H419.3V553.7H420.2V545.9H421.2V537.9H422.1V530.9H423.1V523.0H424.0V516.3H424.9V509.6H425.9V505.5H426.8V507.3H427.8V514.6H428.7V521.6H429.6V534.3H430.6V547.1H431.5V558.9H432.5V570.5H433.4V579.9H434.3V582.2H435.3" fill="none" stroke="#111" stroke-width="1.40" stroke-dasharray="1.4,2.2"/>
<path d="M121.1,157.2H121.6V156.4H122.5V157.2H123.5V156.0H124.4V156.7H125.4V157.2H126.3V157.2H127.2V156.4H128.2V156.6H129.1V157.1H130.1V155.8H131.0V157.2H131.9V157.2H132.9V156.7H133.8V157.2H134.8V157.2H135.7V157.2H136.6V157.2H137.6V157.2H138.5V156.7H139.5V157.1H140.4V156.7H141.3V157.2H142.3V156.7H143.2V157.2H144.2V157.1H145.1V157.0H146.0V157.2H147.0V156.9H147.9V157.2H148.9V157.2H149.8V157.2H150.7V156.9H151.7V157.2H152.6V157.2H153.6V156.6H154.5V156.8H155.4V156.0H156.4V155.4H157.3V155.6H158.3V153.8H159.2V152.8H160.1V152.3H161.1V152.8H162.0V152.2H163.0V152.1H163.9V152.0H164.8V152.4H165.8V150.6H166.7V150.0H167.7V148.1H168.6V148.0H169.5V147.5H170.5V146.2H171.4V142.3H172.4V143.2H173.3V142.2H174.2V139.6H175.2V135.7H176.1V134.5H177.1V133.0H178.0V130.5H178.9V126.9H179.9V124.4H180.8V123.2H181.8V118.0H182.7V117.8H183.6V113.3H184.6V110.1H185.5V104.9H186.5V102.1H187.4V100.1H188.3V95.4H189.3V96.9H190.2V91.8H191.2V90.6H192.1V92.1H193.0V93.2H194.0V94.6H194.9V95.4H195.9V98.3H196.8V102.4H197.7V106.4H198.7V109.3H199.6V118.1H200.6V123.8H201.5V130.3H202.4V136.3H203.4V142.7H204.3V147.5H205.3V150.6H206.2V153.9H207.1V152.4H208.1V154.1H209.0V153.4H210.0V153.9H210.9V155.1H211.8V153.4H212.8V154.0H213.7V153.7H214.7V154.7H215.6V153.4H216.5V153.0H217.5V154.4H218.4V154.7H219.4V156.8H220.3" fill="none" stroke="#d8082e" stroke-width="1.80"/>
<path d="M308.1,157.2H309.0V155.4H310.0V155.1H310.9V155.2H311.9V155.3H312.8V154.5H313.7V155.3H314.7V156.0H315.6V154.1H316.6V155.4H317.5V152.3H318.4V152.8H319.4V149.7H320.3V148.2H321.3V145.9H322.2V143.8H323.1V141.4H324.1V140.2H325.0V138.9H326.0V135.1H326.9V130.0H327.8V122.7H328.8V115.0H329.7V107.3H330.7V103.8H331.6V96.0H332.5V90.9H333.5V86.5H334.4V82.3H335.4V82.6H336.3V79.7H337.2V78.5H338.2V84.0H339.1V84.9H340.1V94.4H341.0V100.2H341.9V108.3H342.9V116.7H343.8V124.2H344.8V131.4H345.7V136.4H346.6V144.0H347.6V146.8H348.5V148.7H349.5V150.6H350.4V150.6H351.3V152.0H352.3V152.0H353.2V153.3H354.2V153.5H355.1V154.4H356.0V154.2H357.0V154.3H357.9V153.6H358.9V153.8H359.8V153.9H360.7V154.8H361.7V153.9H362.6V156.1H363.6V154.9H364.5V154.8H365.4V154.4H366.4V153.7H367.3V155.2H368.3V154.0H369.2V155.1H370.1V154.9H371.1V153.7H372.0V154.4H373.0V155.5H373.9V154.9H374.8V155.7H375.8V156.0H376.7V157.0H377.7" fill="none" stroke="#d8082e" stroke-width="1.80"/>
<path d="M397.1,156.8H397.6V157.0H398.5V157.2H399.5V157.2H400.4V157.1H401.4V157.1H402.3V157.2H403.2V156.8H404.2V156.4H405.1V157.2H406.1V156.4H407.0V157.2H407.9V156.4H408.9V157.2H409.8V156.4H410.8V157.2H411.7V157.2H412.6V156.4H413.6V157.2H414.5V155.8H415.5V154.9H416.4V156.0H417.3V155.3H418.3V154.0H419.2V153.7H420.2V156.4H421.1V156.3H422.0V156.3H423.0V156.4H423.9V155.5H424.9V156.3H425.8V157.2H426.7V157.2H427.7V156.5H428.6V156.3H429.6V157.0H430.5V157.2H431.4V157.2H432.4V156.1H433.3V156.9H434.3V156.9H435.2V157.2H436.1V157.2H437.1V157.2H438.0V157.2H439.0V156.7H439.9V157.2H440.8V155.9H441.8V155.8H442.7V155.5H443.7V153.6H444.6V153.0H445.5V151.5H446.5V152.1H447.4V151.2H448.4V150.3H449.3V150.2H450.2V147.5H451.2V148.4H452.1V147.6H453.1V146.3H454.0V146.0H454.9V145.7H455.9V142.7H456.8V140.8H457.8V139.6H458.7V138.6H459.6V137.0H460.6V133.7H461.5V133.3H462.5V129.7H463.4V129.4H464.3V127.2H465.3V125.0H466.2V123.4H467.2V117.9H468.1V113.4H469.0V109.0H470.0V107.8H470.9V105.7H471.9V110.1H472.8V111.7H473.7V115.6H474.7V118.9H475.6V120.5H476.6V123.5H477.5V126.8H478.4V126.7H479.4V132.8H480.3V135.3H481.3V137.7H482.2V139.9H483.1V142.3H484.1V144.9H485.0V147.5H486.0V148.0H486.9V150.6H487.8V149.0H488.8V151.1H489.7V152.1H490.7V152.5H491.6V151.8H492.5V152.9H493.5V154.6H494.4V153.6H495.4V155.0H496.3V156.1H497.2V156.7H498.2V157.2H499.1V157.2H500.1V155.8H501.0V157.2H501.9V156.6H502.9V156.6H503.8V157.2H504.8V156.9H505.7V156.3H506.6V156.6H507.6V156.6H508.5V156.4H509.5V156.8H510.4V157.2H511.3V157.2H512.3V156.2H513.2V157.2H514.2V156.4H515.1V157.1H516.0V157.0H516.4V157.2H516.4" fill="none" stroke="#d8082e" stroke-width="1.80"/>
<path d="M121.1,263.3H121.8V263.7H122.8V263.7H123.7V262.3H124.7V260.9H125.6V261.1H126.5V259.7H127.5V258.8H128.4V257.7H129.4V256.4H130.3V254.5H131.2V253.9H132.2V251.1H133.1V247.6H134.1V246.8H135.0V243.3H135.9V242.1H136.9V238.0H137.8V236.6H138.8V233.9H139.7V227.4H140.6V224.9H141.6V221.4H142.5V219.7H143.5V212.0H144.4V210.6H145.3V206.4H146.3V201.8H147.2V201.9H148.2V203.9H149.1V207.9H150.0V211.9H151.0V216.3H151.9V221.0H152.9V224.4H153.8V228.1H154.7V232.6H155.7V237.9H156.6V239.6H157.6V243.3H158.5V247.0H159.4V249.2H160.4V251.7H161.3V252.0H162.3V254.5H163.2V255.3H164.1V256.8H165.1V255.7H166.0V257.9H167.0V259.4H167.9V260.3H168.8V261.1H169.8V261.4H170.7V260.4H171.7V261.8H172.6V261.5H173.5V261.4H174.5V262.9H175.4V261.6H176.4V261.6H177.3V262.0H178.2V261.8H179.2V263.0H180.1V262.7H181.1V263.4H182.0V262.9H182.9V262.3H183.9V263.4H184.8V262.4H185.8V262.6H186.7V262.9H187.6V263.1H188.6V263.7H189.5V262.8H190.5V263.4H191.4" fill="none" stroke="#d8082e" stroke-width="1.80"/>
<path d="M260.8,262.9H261.8V262.1H262.7V262.2H263.7V262.7H264.6V263.0H265.5V262.9H266.5V263.0H267.4V262.7H268.4V262.3H269.3V262.8H270.2V261.9H271.2V261.5H272.1V262.0H273.1V261.2H274.0V261.6H274.9V261.4H275.9V261.4H276.8V261.6H277.8V260.7H278.7V260.3H279.6V258.8H280.6V259.4H281.5V258.0H282.5V258.1H283.4V254.9H284.3V255.4H285.3V255.2H286.2V252.3H287.2V252.9H288.1V252.3H289.0V251.4H290.0V249.1H290.9V249.6H291.9V248.6H292.8V246.3H293.7V246.3H294.7V244.2H295.6V242.8H296.6V241.0H297.5V239.6H298.4V236.7H299.4V235.1H300.3V232.0H301.3V227.3H302.2V223.9H303.1V220.9H304.1V214.9H305.0V211.0H306.0V205.7H306.9V199.3H307.8V196.9H308.8V199.6H309.7V199.7H310.7V202.3H311.6V205.4H312.5V213.0H313.5V217.5H314.4V222.7H315.4V228.3H316.3V235.0H317.2V239.6H318.2V245.5H319.1V253.3H320.1V256.8H321.0V258.5H321.9V260.6H322.9V260.9H323.8V259.9H324.8V262.2H325.7V262.8H326.6V262.5H327.6V261.1H328.5V263.3H329.5V263.6H330.4V262.6H331.3" fill="none" stroke="#d8082e" stroke-width="1.80"/>
<path d="M397.1,263.1H397.6V263.5H398.5V262.9H399.5V263.7H400.4V263.0H401.4V263.4H402.3V263.0H403.2V262.1H404.2V262.4H405.1V263.7H406.1V263.2H407.0V263.7H407.9V263.7H408.9V263.7H409.8V263.3H410.8V262.6H411.7V263.0H412.6V261.8H413.6V262.9H414.5V263.5H415.5V261.7H416.4V263.1H417.3V263.5H418.3V263.6H419.2V262.0H420.2V261.9H421.1V260.8H422.0V261.0H423.0V261.0H423.9V259.8H424.9V255.3H425.8V252.2H426.7V245.8H427.7V238.4H428.6V231.6H429.6V215.7H430.5V209.9H431.4V205.7H432.4V207.0H433.3V207.3H434.3V209.6H435.2V210.3H436.1V215.4H437.1V220.0H438.0V225.5H439.0V232.0H439.9V237.7H440.8V243.2H441.8V248.2H442.7V253.4H443.7V253.4H444.6V253.8H445.5V255.9H446.5V256.0H447.4V256.6H448.4V258.1H449.3V257.1H450.2V257.2H451.2V257.1H452.1V257.8H453.1V257.7H454.0V258.4H454.9V260.7H455.9V259.0H456.8V258.3H457.8V260.4H458.7V259.8H459.6V260.0H460.6V260.1H461.5V260.3H462.5V260.4H463.4V261.0H464.3V260.9H465.3V261.3H466.2V260.2H467.2V260.7H468.1V260.4H469.0V261.6H470.0V261.7H470.9V261.0H471.9V261.8H472.8V263.3H473.7V262.5H474.7V261.1H475.6V261.9H476.6V262.5H477.5V262.2H478.4V262.6H479.4V263.2H480.3V262.8H481.3V262.0H482.2V263.3H483.1V262.9H484.1V263.1H485.0V262.6H486.0V262.1H486.9V262.2H487.8V262.8H488.8V262.3H489.7V261.3H490.7V263.7H491.6V262.3H492.5V262.5H493.5V263.3H494.4V261.5H495.4V263.7H496.3V262.5H497.2V263.4H498.2V262.7H499.1V263.2H500.1V263.0H501.0V263.0H501.9V261.9H502.9V262.1H503.8V263.0H504.8V263.7H505.7V262.6H506.6V263.3H507.6V263.1H508.5V263.3H509.5V263.6H510.4V262.1H511.3V263.2H512.3V262.9H513.2V262.8H514.2V262.5H515.1V262.5H516.0V262.4H516.4V262.3H516.4" fill="none" stroke="#d8082e" stroke-width="1.80"/>
<path d="M121.4,365.7H122.3V368.5H123.3V369.4H124.2V369.7H125.2V368.5H126.1V367.3H127.0V367.7H128.0V368.8H128.9V369.5H129.9V368.3H130.8V367.0H131.7V366.8H132.7V365.5H133.6V364.6H134.6V364.6H135.5V362.8H136.4V360.9H137.4V359.1H138.3V357.4H139.3V356.7H140.2V354.7H141.1V350.2H142.1V349.2H143.0V342.6H144.0V339.6H144.9V333.6H145.8V329.8H146.8V325.4H147.7V321.2H148.7V317.9H149.6V312.3H150.5V308.1H151.5V306.5H152.4V308.0H153.4V307.8H154.3V311.2H155.2V314.4H156.2V313.3H157.1V318.0H158.1V321.5H159.0V321.8H159.9V328.7H160.9V333.0H161.8V336.6H162.8V343.8H163.7V347.4H164.6V350.5H165.6V355.1H166.5V358.5H167.5V361.4H168.4V364.0H169.3V365.8H170.3V366.6H171.2V368.3H172.2V368.8H173.1V367.2H174.0V370.0H175.0V369.1H175.9V368.8H176.9V368.1H177.8V369.2H178.7V368.9H179.7V368.3H180.6V368.2H181.6V368.0H182.5V368.1H183.4V368.6H184.4V368.3H185.3V369.2H186.3V368.7H187.2V368.9H188.1V369.1H189.1V369.7H190.0V369.4H191.0V369.3H191.9V369.2H192.8V369.0H193.8V369.5H194.7V370.0H195.7" fill="none" stroke="#d8082e" stroke-width="1.80"/>
<path d="M259.6,370.0H260.6V369.6H261.5V368.9H262.5V368.6H263.4V369.7H264.3V370.0H265.3V369.5H266.2V368.3H267.2V368.9H268.1V368.8H269.0V367.3H270.0V367.5H270.9V366.4H271.9V365.3H272.8V363.9H273.7V363.8H274.7V361.8H275.6V359.2H276.6V357.4H277.5V357.1H278.4V353.7H279.4V349.8H280.3V348.4H281.3V343.1H282.2V337.6H283.1V335.0H284.1V329.1H285.0V324.9H286.0V320.0H286.9V315.1H287.8V311.2H288.8V308.9H289.7V307.7H290.7V302.0H291.6V303.1H292.5V303.8H293.5V306.5H294.4V313.4H295.4V318.6H296.3V321.8H297.2V325.3H298.2V332.5H299.1V335.8H300.1V342.0H301.0V344.5H301.9V350.5H302.9V353.7H303.8V356.9H304.8V360.5H305.7V363.2H306.6V364.7H307.6V365.2H308.5V367.1H309.5V366.8H310.4V368.9H311.3V369.1H312.3V370.0H313.2V369.7H314.2V369.5H315.1V369.7H316.0V369.7H317.0V368.9H317.9V370.0H318.9V370.0H319.8V369.5H320.7V368.9H321.7V370.0H322.6V369.9H323.6V368.8H324.5V370.0H325.4V370.0H326.4V369.5H327.3V369.7H328.3V369.2H329.2V369.1H330.1V370.0H331.1V370.0H332.0V369.7H333.0V369.6H333.9V370.0H334.8V369.6H335.8V370.0H336.7V370.0H337.7V369.3H338.6" fill="none" stroke="#d8082e" stroke-width="1.80"/>
<path d="M397.1,369.3H397.6V369.9H398.5V370.0H399.5V370.0H400.4V370.0H401.4V369.0H402.3V370.0H403.2V369.4H404.2V369.8H405.1V369.9H406.1V369.0H407.0V369.4H407.9V368.8H408.9V369.7H409.8V368.9H410.8V369.1H411.7V369.5H412.6V368.9H413.6V370.0H414.5V368.9H415.5V369.7H416.4V368.8H417.3V367.5H418.3V367.5H419.2V366.5H420.2V366.3H421.1V362.7H422.0V360.5H423.0V353.5H423.9V347.7H424.9V339.2H425.8V327.5H426.7V315.7H427.7V309.3H428.6V296.8H429.6V298.3H430.5V300.1H431.4V304.2H432.4V311.5H433.3V320.3H434.3V330.3H435.2V338.2H436.1V345.5H437.1V353.2H438.0V358.8H439.0V361.7H439.9V365.6H440.8V365.7H441.8V367.3H442.7V367.3H443.7V368.2H444.6V369.0H445.5V368.9H446.5V368.6H447.4V369.4H448.4V368.8H449.3V369.3H450.2V369.3H451.2V369.5H452.1V367.7H453.1V368.4H454.0V369.7H454.9V369.2H455.9V370.0H456.8V369.2H457.8V369.1H458.7V370.0H459.6V369.8H460.6V370.0H461.5V369.8H462.5V369.4H463.4V370.0H464.3V369.2H465.3V369.4H466.2V369.4H467.2V369.6H468.1V370.0H469.0V369.4H470.0V369.9H470.9V369.4H471.9V370.0H472.8V368.1H473.7V369.6H474.7V369.8H475.6V369.1H476.6V370.0H477.5V369.8H478.4V370.0H479.4V370.0H480.3V370.0H481.3V369.6H482.2V369.1H483.1V369.6H484.1V369.4H485.0V369.9H486.0V369.4H486.9V370.0H487.8V368.8H488.8V370.0H489.7V369.4H490.7V369.6H491.6V370.0H492.5V369.7H493.5V369.0H494.4V370.0H495.4V369.6H496.3V368.5H497.2V369.8H498.2V369.1H499.1V369.3H500.1V370.0H501.0V369.9H501.9V369.5H502.9V370.0H503.8V370.0H504.8V369.3H505.7V369.9H506.6V369.6H507.6V368.4H508.5V368.8H509.5V368.9H510.4V370.0H511.3V369.6H512.3V369.5H513.2V369.4H514.2V370.0H515.1V369.7H516.0V370.0H516.4V370.0H516.4" fill="none" stroke="#d8082e" stroke-width="1.80"/>
<path d="M121.6,474.4H122.6V466.6H123.5V467.1H124.5V469.7H125.4V471.4H126.3V471.0H127.3V472.4H128.2V472.8H129.2V472.8H130.1V473.7H131.0V472.7H132.0V473.0H132.9V472.1H133.9V471.5H134.8V470.9H135.7V469.1H136.7V469.5H137.6V467.1H138.6V465.0H139.5V464.5H140.4V463.4H141.4V457.3H142.3V455.9H143.3V451.4H144.2V446.1H145.1V441.5H146.1V435.9H147.0V430.7H148.0V425.3H148.9V419.6H149.8V418.9H150.8V418.1H151.7V418.5H152.7V419.3H153.6V423.0H154.5V424.1H155.5V428.9H156.4V434.0H157.4V439.3H158.3V443.2H159.2V448.2H160.2V452.3H161.1V457.8H162.1V458.0H163.0V462.5H163.9V466.7H164.9V467.2H165.8V467.9H166.8V470.6H167.7V470.5H168.6V472.0H169.6V473.7H170.5V474.9H171.5V474.3H172.4V474.7H173.3V475.2H174.3V474.6H175.2V473.9H176.2V474.3H177.1V474.5H178.0V474.0H179.0V473.7H179.9V473.9H180.9V473.1H181.8V473.5H182.7V474.1H183.7V474.0H184.6V474.3H185.6V475.2H186.5V474.8H187.4V474.8H188.4V474.3H189.3V474.6H190.3V475.7H191.2" fill="none" stroke="#d8082e" stroke-width="1.80"/>
<path d="M259.6,470.6H260.6V470.5H261.5V472.2H262.5V473.6H263.4V474.0H264.3V475.2H265.3V474.8H266.2V474.9H267.2V475.4H268.1V475.3H269.0V476.2H270.0V475.3H270.9V475.1H271.9V475.2H272.8V475.7H273.7V475.5H274.7V475.7H275.6V474.4H276.6V476.2H277.5V476.2H278.4V475.1H279.4V474.3H280.3V474.9H281.3V474.6H282.2V472.5H283.1V473.6H284.1V472.2H285.0V473.0H286.0V473.3H286.9V472.6H287.8V470.0H288.8V471.1H289.7V469.8H290.7V468.0H291.6V467.7H292.5V466.6H293.5V463.0H294.4V461.1H295.4V458.4H296.3V456.4H297.2V449.7H298.2V448.7H299.1V440.8H300.1V437.0H301.0V427.2H301.9V419.8H302.9V412.3H303.8V407.8H304.8V402.6H305.7V404.0H306.6V402.6H307.6V404.7H308.5V405.2H309.5V409.2H310.4V415.5H311.3V424.7H312.3V429.9H313.2V437.8H314.2V447.2H315.1V452.9H316.0V460.9H317.0V464.3H317.9V469.2H318.9V470.6H319.8V473.0H320.7V473.4H321.7V473.6H322.6V474.2H323.6V475.9H324.5V475.6H325.4V474.6H326.4V476.2H327.3V475.4H328.3V475.8H329.2" fill="none" stroke="#d8082e" stroke-width="1.80"/>
<path d="M397.1,468.9H397.6V467.9H398.5V467.5H399.5V468.2H400.4V469.6H401.4V469.5H402.3V467.8H403.2V470.0H404.2V469.2H405.1V469.7H406.1V469.8H407.0V470.9H407.9V470.6H408.9V471.2H409.8V471.8H410.8V472.5H411.7V473.8H412.6V473.3H413.6V475.3H414.5V473.9H415.5V473.9H416.4V474.7H417.3V474.6H418.3V473.8H419.2V472.7H420.2V472.2H421.1V471.2H422.0V470.6H423.0V467.2H423.9V463.8H424.9V453.4H425.8V443.3H426.7V432.8H427.7V425.4H428.6V421.8H429.6V422.8H430.5V429.2H431.4V433.8H432.4V443.2H433.3V449.6H434.3V456.9H435.2V462.6H436.1V466.0H437.1V468.6H438.0V470.0H439.0V471.2H439.9V471.1H440.8V472.0H441.8V472.5H442.7V473.4H443.7V474.3H444.6V471.6H445.5V473.3H446.5V473.0H447.4V473.8H448.4V473.9H449.3V473.8H450.2V473.9H451.2V472.9H452.1V472.5H453.1V474.7H454.0V474.5H454.9V473.1H455.9V474.7H456.8V474.3H457.8V472.3H458.7V474.6H459.6V473.4H460.6V474.8H461.5V473.7H462.5V473.7H463.4V473.3H464.3V474.4H465.3V475.7H466.2V475.1H467.2V474.4H468.1V476.2H469.0V476.2H470.0V476.1H470.9V475.4H471.9V475.0H472.8V474.8H473.7V476.1H474.7V476.2H475.6V475.2H476.6V475.9H477.5V475.8H478.4V475.8H479.4V476.2H480.3V476.2H481.3V475.6H482.2V476.2H483.1V476.2H484.1V475.9H485.0V476.0H486.0V475.3H486.9V476.2H487.8V475.8H488.8V475.7H489.7V476.2H490.7V475.6H491.6V475.5H492.5V476.0H493.5V476.2H494.4V476.1H495.4V476.2H496.3V475.4H497.2V475.1H498.2V476.2H499.1V476.0H500.1V475.4H501.0V476.2H501.9V476.2H502.9V475.3H503.8V475.8H504.8V476.2H505.7V475.8H506.6V476.2H507.6V476.2H508.5V476.2H509.5V476.1H510.4V476.2H511.3V476.0H512.3V476.2H513.2V476.2H514.2V476.2H515.1V476.2H516.0V476.2H516.4V476.2H516.4" fill="none" stroke="#d8082e" stroke-width="1.80"/>
<path d="M122.1,582.1H123.1V581.8H124.0V581.7H124.9V581.1H125.9V581.0H126.8V581.9H127.8V581.7H128.7V581.6H129.6V580.8H130.6V581.6H131.5V581.7H132.5V581.0H133.4V581.5H134.3V582.2H135.3V579.8H136.2V581.3H137.2V580.2H138.1V580.0H139.0V580.7H140.0V580.7H140.9V579.8H141.9V578.4H142.8V577.6H143.7V577.6H144.7V577.2H145.6V575.6H146.6V574.2H147.5V575.6H148.4V572.8H149.4V572.3H150.3V571.1H151.3V570.1H152.2V569.7H153.1V568.5H154.1V568.2H155.0V565.5H156.0V563.9H156.9V565.6H157.8V562.1H158.8V560.0H159.7V557.6H160.7V553.5H161.6V549.2H162.5V543.9H163.5V540.1H164.4V538.9H165.4V535.9H166.3V533.7H167.2V529.4H168.2V528.6H169.1V529.4H170.1V529.8H171.0V532.6H171.9V532.8H172.9V540.4H173.8V543.6H174.8V549.5H175.7V556.7H176.6V560.9H177.6V564.6H178.5V570.4H179.5V575.3H180.4V576.3H181.3V579.0H182.3V579.6H183.2V579.3H184.2V581.3H185.1V581.6H186.0V582.2H187.0V582.2H187.9V581.3H188.9" fill="none" stroke="#d8082e" stroke-width="1.80"/>
<path d="M292.3,582.2H293.3V581.9H294.2V581.5H295.2V581.4H296.1V582.2H297.0V581.7H298.0V582.2H298.9V581.9H299.9V580.3H300.8V581.9H301.7V581.9H302.7V580.2H303.6V578.4H304.6V579.5H305.5V575.5H306.4V572.6H307.4V567.4H308.3V562.7H309.3V556.6H310.2V553.3H311.1V546.9H312.1V538.8H313.0V531.7H314.0V527.4H314.9V522.3H315.8V516.4H316.8V513.0H317.7V511.8H318.7V512.1H319.6V512.6H320.5V515.4H321.5V518.1H322.4V523.3H323.4V534.3H324.3V542.4H325.2V552.6H326.2V561.8H327.1V568.8H328.1V573.7H329.0V578.7H329.9V580.6H330.9V581.9H331.8V582.2H332.8V582.2H333.7" fill="none" stroke="#d8082e" stroke-width="1.80"/>
<path d="M397.4,581.2H398.3V575.7H399.3V572.5H400.2V573.7H401.2V573.5H402.1V574.5H403.0V575.7H404.0V576.2H404.9V577.4H405.9V578.5H406.8V580.2H407.7V580.1H408.7V581.5H409.6V581.2H410.6V582.2H411.5V581.7H412.4V580.7H413.4V582.2H414.3V581.9H415.3V582.2H416.2V582.0H417.1V581.8H418.1V582.1H419.0V581.3H420.0V581.2H420.9V581.3H421.8V581.5H422.8V580.9H423.7V581.6H424.7V581.8H425.6V582.2H426.5V582.2H427.5V581.4H428.4V581.9H429.4V581.2H430.3V581.5H431.2V581.3H432.2V580.9H433.1V581.3H434.1V580.4H435.0V581.6H435.9V581.1H436.9V580.6H437.8V581.1H438.8V581.6H439.7V580.9H440.6V581.6H441.6V581.6H442.5V582.1H443.5V580.1H444.4V580.4H445.3V580.5H446.3V580.8H447.2V579.7H448.2V579.7H449.1V577.9H450.0V578.2H451.0V579.5H451.9V577.9H452.9V579.2H453.8V576.9H454.7V576.9H455.7V575.6H456.6V576.9H457.6V576.1H458.5V576.9H459.4V575.1H460.4V574.3H461.3V573.0H462.3V573.5H463.2V573.8H464.1V573.2H465.1V573.1H466.0V572.4H467.0V570.8H467.9V570.4H468.8V569.1H469.8V567.0H470.7V568.5H471.7V565.9H472.6V562.8H473.5V562.2H474.5V560.2H475.4V558.7H476.4V557.0H477.3V550.6H478.2V551.8H479.2V550.4H480.1V545.6H481.1V542.7H482.0V543.4H482.9V542.0H483.9V542.0H484.8V541.0H485.8V542.1H486.7V543.3H487.6V544.3H488.6V546.7H489.5V546.2H490.5V546.8H491.4V549.3H492.3V556.8H493.3V560.6H494.2V566.5H495.2V571.3H496.1V577.3H497.0V578.2H498.0V580.4H498.9V581.3H499.9V581.7H500.8V582.2H501.7V581.8H502.7V582.1H503.6V582.2H504.6V581.3H505.5V582.1H506.4V582.2H507.4V582.2H508.3" fill="none" stroke="#d8082e" stroke-width="1.80"/>
<path d="M121.50,158.00V146.96" stroke="#5cd444" stroke-width="1.20"/>
<path d="M259.50,158.00V148.80" stroke="#5cd444" stroke-width="1.20"/>
<path d="M121.50,370.80V320.58" stroke="#5cd444" stroke-width="1.30"/>
<path d="M122.50,370.80V361.67" stroke="#a9652f" stroke-width="1.80"/>
<path d="M259.50,370.80V356.19" stroke="#5cd444" stroke-width="1.30"/>
<path d="M121.10,477.00V420.27" stroke="#5cd444" stroke-width="1.30"/>
<path d="M122.40,477.00V385.50" stroke="#a9652f" stroke-width="2.00"/>
<path d="M123.10,477.00V458.70" stroke="#d8082e" stroke-width="1.60"/>
<path d="M259.10,477.00V421.19" stroke="#5cd444" stroke-width="1.30"/>
<path d="M260.00,477.00V385.50" stroke="#a9652f" stroke-width="2.50"/>
<path d="M397.90,477.00V385.50" stroke="#d8082e" stroke-width="2.60"/>
<path d="M122.10,583.00V531.41" stroke="#5cd444" stroke-width="1.60"/>
<path d="M123.10,583.00V492.50" stroke="#a9652f" stroke-width="2.00"/>
<path d="M259.50,583.00V532.32" stroke="#5cd444" stroke-width="1.50"/>
<path d="M260.40,583.00V492.50" stroke="#a9652f" stroke-width="2.00"/>
<path d="M397.90,583.00V492.50" stroke="#d8082e" stroke-width="2.60"/>
<text x="178.9" y="11.5" text-anchor="middle" class="hd">A</text>
<text x="179.5" y="38.5" text-anchor="middle" class="hd2">E-Sel-IgG</text>
<text x="316.6" y="11.5" text-anchor="middle" class="hd">B</text>
<text x="316.2" y="38.5" text-anchor="middle" class="hd2">P-Sel-IgG</text>
<text x="452" y="11.5" text-anchor="middle" class="hd">C</text>
<text x="455.6" y="38.5" text-anchor="middle" class="hd2">CSLEX-1</text>
<text x="0" y="0" transform="translate(0.60,110.80) scale(1.000,1)" class="rn">I</text>
<text x="24.0" y="94.9" class="rb">before</text>
<text x="24.0" y="109.1" class="rb">stop of</text>
<text x="24.0" y="123.1" class="rb">therapy</text>
<text x="0" y="0" transform="translate(-0.60,218.00) scale(1.000,1)" class="rn">II</text>
<text x="24.0" y="210.4" class="rb">3 days</text>
<text x="24.0" y="224.2" class="rb">w/o fuc</text>
<text x="0" y="0" transform="translate(-0.60,324.30) scale(1.040,1)" class="rn">III</text>
<text x="24.0" y="316.2" class="rb">7 days</text>
<text x="24.0" y="330.0" class="rb">w/o fuc</text>
<text x="0" y="0" transform="translate(-0.10,440.50) scale(1.060,1)" class="rn">IV</text>
<text x="24.0" y="424.4" class="rb">16 days</text>
<text x="24.0" y="438.8" class="rb">with fuc</text>
<text x="24.0" y="453.3" class="rr">100 mg/kg</text>
<text x="0" y="0" transform="translate(1.00,545.00) scale(1.020,1)" class="rn">V</text>
<text x="24.0" y="529.6" class="rb">33 days</text>
<text x="24.0" y="543.9" class="rb">with fuc</text>
<text x="24.0" y="557.8" class="rr">290 mg/kg</text>
<text x="114.85" y="595.5" class="xl">10<tspan class="sup" dy="-3.8" dx="0.5">0</tspan></text>
<text x="143.35" y="595.5" class="xl">10<tspan class="sup" dy="-3.8" dx="0.5">1</tspan></text>
<text x="174.55" y="595.5" class="xl">10<tspan class="sup" dy="-3.8" dx="0.5">2</tspan></text>
<text x="203.15" y="595.5" class="xl">10<tspan class="sup" dy="-3.8" dx="0.5">3</tspan></text>
<text x="230.25" y="595.5" class="xl">10<tspan class="sup" dy="-3.8" dx="0.5">4</tspan></text>
<text x="179.35" y="607.2" class="xt" text-anchor="middle">FL2-H</text>
<text x="252.85" y="595.5" class="xl">10<tspan class="sup" dy="-3.8" dx="0.5">0</tspan></text>
<text x="281.35" y="595.5" class="xl">10<tspan class="sup" dy="-3.8" dx="0.5">1</tspan></text>
<text x="312.55" y="595.5" class="xl">10<tspan class="sup" dy="-3.8" dx="0.5">2</tspan></text>
<text x="341.15" y="595.5" class="xl">10<tspan class="sup" dy="-3.8" dx="0.5">3</tspan></text>
<text x="368.25" y="595.5" class="xl">10<tspan class="sup" dy="-3.8" dx="0.5">4</tspan></text>
<text x="317.35" y="607.2" class="xt" text-anchor="middle">FL2-H</text>
<text x="390.85" y="595.5" class="xl">10<tspan class="sup" dy="-3.8" dx="0.5">0</tspan></text>
<text x="419.35" y="595.5" class="xl">10<tspan class="sup" dy="-3.8" dx="0.5">1</tspan></text>
<text x="450.55" y="595.5" class="xl">10<tspan class="sup" dy="-3.8" dx="0.5">2</tspan></text>
<text x="479.15" y="595.5" class="xl">10<tspan class="sup" dy="-3.8" dx="0.5">3</tspan></text>
<text x="506.25" y="595.5" class="xl">10<tspan class="sup" dy="-3.8" dx="0.5">4</tspan></text>
<text x="455.35" y="607.2" class="xt" text-anchor="middle">FL1-H</text>
<rect x="121.2" y="624.2" width="257.5" height="35.2" fill="none" stroke="#222" stroke-width="1.1"/>
<path d="M136,633H152" stroke="#9a9a9a" stroke-width="1.3"/>
<path d="M135.5,651H151.5" stroke="#2a4fd8" stroke-width="1.3" stroke-dasharray="4,2.2"/>
<path d="M259.3,633.2H277" stroke="#5cd444" stroke-width="1.8"/>
<path d="M259.8,650.4H277" stroke="#d8082e" stroke-width="2.8"/>
<text x="155.9" y="637.8" class="lg">sec. antibody</text>
<text x="155.9" y="654.8" class="lg">VE-cadh.-IgG</text>
<text x="281.3" y="636.6" class="lg">EDTA-control</text>
<text x="281.3" y="655" class="lg" textLength="88" lengthAdjust="spacingAndGlyphs">Sel-IgG (as indicated)</text>
<rect x="395.5" y="625" width="121.2" height="34.5" fill="none" stroke="#222" stroke-width="1.1"/>
<path d="M413.7,634.3H431.2" stroke="#a8a8a8" stroke-width="1.3" stroke-dasharray="1.4,0.6"/>
<path d="M413.7,651.2H430.6" stroke="#d8082e" stroke-width="2.4"/>
<text x="436.6" y="638.1" class="lg">sec. antibody</text>
<text x="436.6" y="654.4" class="lg">CSLEX-1</text></svg></body></html>
